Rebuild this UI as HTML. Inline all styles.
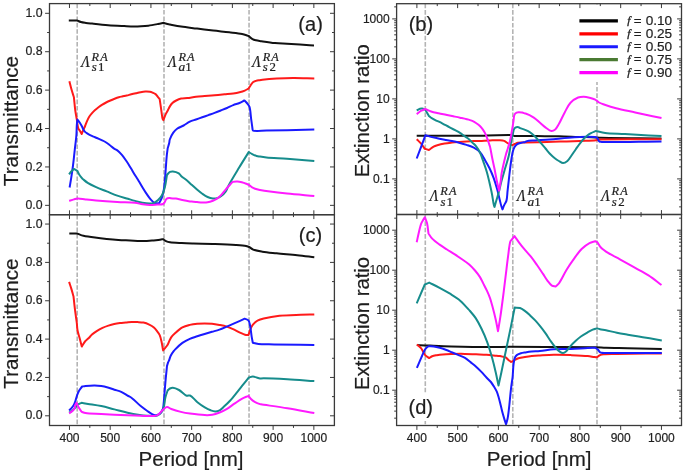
<!DOCTYPE html>
<html><head><meta charset="utf-8"><style>
html,body{margin:0;padding:0;background:#fff;}
svg{display:block;}
text{filter:grayscale(1);}
</style></head><body>
<svg xmlns="http://www.w3.org/2000/svg" width="685" height="473" viewBox="0 0 685 473">
<rect width="685" height="473" fill="#fff"/>
<line x1="77.20" y1="3.60" x2="77.20" y2="425.50" stroke="#b4b4b4" stroke-width="1.6" stroke-dasharray="4.6 1.8"/>
<line x1="164.00" y1="3.60" x2="164.00" y2="425.50" stroke="#b4b4b4" stroke-width="1.6" stroke-dasharray="4.6 1.8"/>
<line x1="249.05" y1="3.60" x2="249.05" y2="425.50" stroke="#b4b4b4" stroke-width="1.6" stroke-dasharray="4.6 1.8"/>
<line x1="425.30" y1="3.70" x2="425.30" y2="425.50" stroke="#b4b4b4" stroke-width="1.6" stroke-dasharray="4.6 1.8"/>
<line x1="512.80" y1="3.70" x2="512.80" y2="425.50" stroke="#b4b4b4" stroke-width="1.6" stroke-dasharray="4.6 1.8"/>
<line x1="597.00" y1="3.70" x2="597.00" y2="425.50" stroke="#b4b4b4" stroke-width="1.6" stroke-dasharray="4.6 1.8"/>
<path d="M68.80,20.40 C71.50,20.40 74.20,20.40 76.90,20.40 C78.23,20.93 79.46,21.59 80.90,22.00 C82.48,22.45 84.22,22.64 86.00,22.90 C87.94,23.18 89.58,23.33 92.10,23.60 C96.19,24.04 102.84,24.78 108.20,25.20 C113.54,25.62 119.53,25.87 124.20,26.10 C127.84,26.28 130.92,26.48 133.90,26.50 C136.45,26.52 138.62,26.43 141.00,26.30 C143.42,26.17 145.70,26.03 148.30,25.70 C151.31,25.31 155.21,24.54 158.00,24.00 C160.13,23.59 161.73,23.20 163.60,22.80 C164.57,23.13 165.48,23.52 166.50,23.80 C167.60,24.10 168.50,24.21 170.00,24.50 C172.66,25.02 177.05,25.96 181.10,26.60 C185.94,27.36 191.76,27.93 197.10,28.60 C202.46,29.27 207.84,29.98 213.20,30.60 C218.54,31.22 224.16,31.70 229.20,32.30 C233.73,32.84 238.57,33.25 242.10,34.00 C244.63,34.54 246.37,35.27 248.50,35.90 C249.83,36.97 251.15,38.36 252.50,39.10 C253.65,39.73 254.69,39.97 256.00,40.30 C257.59,40.70 259.19,40.86 261.40,41.20 C264.90,41.74 270.60,42.67 275.00,43.10 C279.12,43.51 282.92,43.56 287.00,43.80 C291.25,44.05 295.59,44.34 300.00,44.60 C304.58,44.87 309.33,45.13 314.00,45.40" fill="none" stroke="#111111" stroke-width="2" stroke-linejoin="round" stroke-linecap="butt"/>
<path d="M69.40,81.20 C70.13,84.07 70.82,87.05 71.60,89.80 C72.33,92.37 73.13,94.73 73.90,97.20 C74.37,101.67 74.75,106.61 75.30,110.60 C75.75,113.85 76.30,116.46 76.80,119.40 C77.30,122.36 77.53,126.22 78.30,128.30 C78.77,129.55 79.44,130.16 80.00,131.10 C80.57,132.06 81.13,133.03 81.70,134.00 C82.27,132.60 82.82,131.16 83.40,129.80 C83.96,128.50 84.56,127.31 85.10,126.00 C85.66,124.64 86.07,123.24 86.70,121.80 C87.41,120.19 88.28,118.27 89.20,116.80 C90.00,115.51 90.85,114.51 91.80,113.40 C92.80,112.24 93.96,111.03 95.10,110.00 C96.19,109.01 97.35,108.16 98.50,107.30 C99.62,106.46 100.69,105.67 101.90,104.90 C103.21,104.07 104.68,103.24 106.10,102.50 C107.51,101.77 108.97,101.12 110.40,100.50 C111.80,99.89 113.19,99.34 114.60,98.80 C115.99,98.27 117.49,97.70 118.80,97.30 C119.93,96.96 120.83,96.77 122.00,96.50 C123.41,96.17 125.15,95.87 126.70,95.50 C128.25,95.13 129.76,94.68 131.30,94.30 C132.86,93.92 134.44,93.55 136.00,93.20 C137.54,92.85 139.05,92.47 140.60,92.20 C142.15,91.93 143.74,91.67 145.30,91.60 C146.84,91.54 148.57,91.56 149.90,91.80 C150.96,91.99 151.78,92.33 152.70,92.70 C153.65,93.09 154.67,93.44 155.50,94.10 C156.39,94.81 157.07,96.01 157.80,96.90 C158.46,97.70 159.07,98.43 159.70,99.20 C160.00,101.23 160.30,103.23 160.60,105.30 C160.90,107.43 161.16,109.57 161.50,111.80 C161.86,114.19 162.16,117.95 162.70,119.20 C162.91,119.69 163.17,119.80 163.40,120.10 C163.87,118.87 164.34,117.54 164.80,116.40 C165.20,115.40 165.55,114.50 166.00,113.60 C166.45,112.70 166.95,112.01 167.50,111.00 C168.24,109.63 169.10,107.51 170.00,106.10 C170.76,104.91 171.42,103.91 172.40,103.00 C173.46,102.02 174.81,101.22 176.20,100.50 C177.69,99.73 179.34,99.00 181.10,98.60 C183.02,98.16 185.06,98.36 187.30,98.10 C189.96,97.79 193.10,97.15 196.00,96.80 C198.90,96.45 201.71,96.26 204.70,96.00 C207.89,95.72 211.29,95.48 214.60,95.20 C217.93,94.92 221.39,94.59 224.60,94.30 C227.57,94.03 230.56,93.87 233.20,93.50 C235.47,93.18 237.51,92.81 239.50,92.30 C241.36,91.83 243.22,91.27 244.80,90.60 C246.17,90.01 247.27,89.27 248.50,88.60 C249.23,87.47 249.95,86.29 250.70,85.20 C251.42,84.16 251.99,82.92 252.90,82.20 C253.77,81.51 254.91,81.23 256.00,80.90 C257.14,80.55 258.47,80.39 259.60,80.20 C260.59,80.03 261.10,79.95 262.40,79.80 C265.32,79.47 271.77,78.90 276.70,78.60 C281.98,78.28 287.28,78.05 293.10,78.00 C299.71,77.94 307.23,78.27 314.30,78.40" fill="none" stroke="#ff1a1a" stroke-width="2" stroke-linejoin="round" stroke-linecap="butt"/>
<path d="M69.60,187.50 C70.17,184.13 70.75,180.91 71.30,177.40 C71.89,173.60 72.46,169.71 73.00,165.50 C73.61,160.75 74.13,155.38 74.70,150.30 C75.27,145.21 76.06,139.51 76.40,135.00 C76.67,131.43 76.60,128.21 76.80,125.40 C76.96,123.19 77.20,121.47 77.40,119.50 C78.27,120.67 79.25,121.86 80.00,123.00 C80.66,124.02 81.15,124.96 81.70,126.00 C82.28,127.09 82.80,128.37 83.40,129.40 C83.94,130.32 84.48,131.24 85.10,131.90 C85.63,132.46 86.12,132.75 86.80,133.20 C87.70,133.80 88.98,134.53 90.10,135.10 C91.21,135.66 92.36,136.12 93.50,136.60 C94.63,137.08 95.71,137.49 96.90,138.00 C98.23,138.57 99.70,139.24 101.10,139.90 C102.53,140.57 104.01,141.17 105.40,142.00 C106.85,142.86 108.22,143.95 109.60,145.00 C111.02,146.08 112.43,147.46 113.80,148.40 C114.99,149.21 116.15,149.55 117.30,150.40 C118.63,151.38 119.85,152.57 121.20,154.10 C123.01,156.14 125.19,159.28 126.90,161.80 C128.46,164.10 129.70,166.30 131.10,168.60 C132.53,170.96 134.04,173.62 135.40,175.80 C136.56,177.66 137.59,179.10 138.70,180.90 C139.92,182.88 141.15,185.14 142.40,187.20 C143.62,189.21 144.84,191.21 146.10,193.10 C147.31,194.91 148.59,196.79 149.80,198.30 C150.81,199.56 151.91,200.69 152.80,201.60 C153.46,202.27 153.88,203.01 154.60,203.30 C155.34,203.59 156.43,203.25 157.20,203.30 C157.83,203.34 158.33,203.43 158.90,203.50 C159.87,201.60 161.02,199.87 161.80,197.80 C162.65,195.54 163.20,193.09 163.70,190.40 C164.28,187.25 164.56,183.58 164.90,180.00 C165.26,176.19 165.50,172.14 165.80,168.20 C166.10,164.24 166.34,159.88 166.70,156.30 C166.99,153.34 167.37,150.90 167.70,148.20 C168.20,146.47 168.84,144.57 169.20,143.00 C169.49,141.73 169.36,140.82 169.80,139.50 C170.45,137.54 171.91,134.51 173.30,132.60 C174.50,130.94 175.78,129.65 177.40,128.50 C179.17,127.24 181.56,126.61 183.60,125.50 C185.70,124.35 187.68,122.71 189.80,121.70 C191.82,120.74 193.93,120.23 196.00,119.50 C198.07,118.77 200.13,118.03 202.20,117.30 C204.27,116.57 206.33,115.83 208.40,115.10 C210.47,114.37 212.54,113.66 214.60,112.90 C216.67,112.13 218.74,111.32 220.80,110.50 C222.87,109.68 224.95,108.89 227.00,108.00 C229.08,107.10 231.10,105.94 233.20,105.10 C235.27,104.27 237.56,103.81 239.50,103.00 C241.27,102.26 242.77,101.33 244.40,100.50 C245.23,101.33 246.11,102.04 246.90,103.00 C247.79,104.08 248.74,105.00 249.40,106.70 C250.51,109.57 250.64,115.32 251.20,119.30 C251.70,122.88 252.13,126.10 252.60,129.50 C252.80,129.87 252.73,130.32 253.20,130.60 C254.74,131.51 261.59,130.65 266.50,130.60 C272.60,130.54 279.68,130.35 287.00,130.20 C295.45,130.02 305.20,129.80 314.30,129.60" fill="none" stroke="#1a1aff" stroke-width="2" stroke-linejoin="round" stroke-linecap="butt"/>
<path d="M69.10,174.30 C69.83,173.33 70.50,172.30 71.30,171.40 C72.10,170.50 73.03,169.73 73.90,168.90 C75.03,169.53 76.17,170.17 77.30,170.80 C77.93,172.03 78.42,173.26 79.20,174.50 C80.08,175.89 81.33,177.30 82.40,178.70 C84.17,180.10 85.66,181.59 87.70,182.90 C90.11,184.45 93.10,185.84 96.10,187.20 C99.39,188.69 103.17,190.00 106.70,191.40 C110.23,192.80 113.74,194.36 117.30,195.60 C120.81,196.82 124.72,197.85 127.90,198.80 C130.50,199.58 132.60,200.24 135.00,200.90 C137.44,201.57 139.92,202.37 142.40,202.80 C144.85,203.23 147.76,203.51 149.80,203.50 C151.25,203.49 152.26,203.55 153.50,203.10 C155.02,202.55 156.73,201.25 158.10,200.00 C159.50,198.72 160.75,197.32 161.80,195.50 C163.08,193.28 163.98,190.44 164.80,187.40 C165.80,183.70 166.27,179.00 167.00,174.80 C168.00,173.83 168.92,172.45 170.00,171.90 C170.91,171.44 171.77,171.32 172.90,171.40 C174.53,171.52 177.37,172.37 178.80,173.30 C179.87,174.00 180.13,174.98 181.10,175.90 C182.46,177.19 184.65,178.64 186.40,180.10 C188.19,181.60 189.94,183.22 191.70,184.80 C193.47,186.39 195.21,188.08 197.00,189.60 C198.74,191.08 200.49,192.55 202.30,193.80 C204.03,195.00 205.78,196.23 207.60,197.00 C209.32,197.73 211.22,198.24 212.90,198.40 C214.37,198.54 215.74,198.47 217.10,198.10 C218.54,197.71 219.97,196.96 221.30,196.00 C222.82,194.91 224.42,193.37 225.60,191.70 C226.85,189.93 227.16,188.13 228.50,185.60 C230.85,181.18 235.54,173.53 239.00,167.80 C242.27,162.39 245.47,157.33 248.70,152.10 C249.87,152.77 250.95,153.47 252.20,154.10 C253.57,154.78 255.20,155.58 256.60,156.00 C257.78,156.35 258.68,156.40 260.00,156.60 C261.82,156.87 263.72,157.13 266.50,157.40 C271.42,157.87 279.68,158.27 287.00,158.80 C295.45,159.41 305.20,160.20 314.30,160.90" fill="none" stroke="#168c8c" stroke-width="2" stroke-linejoin="round" stroke-linecap="butt"/>
<path d="M69.10,200.80 C70.70,200.33 72.40,199.82 73.90,199.40 C75.21,199.03 76.12,198.50 77.60,198.40 C79.75,198.25 82.75,199.07 85.60,199.40 C88.86,199.77 91.99,200.14 96.10,200.50 C101.93,201.01 110.55,201.61 117.30,202.00 C123.46,202.36 130.38,202.26 135.00,202.80 C138.01,203.15 139.93,203.83 142.40,204.20 C144.86,204.57 147.33,204.95 149.80,205.00 C152.26,205.05 154.87,204.68 157.20,204.50 C159.28,204.34 161.85,204.61 163.10,204.00 C163.86,203.63 164.14,203.06 164.60,202.40 C165.17,201.59 165.50,200.11 166.10,199.40 C166.55,198.87 167.01,198.52 167.60,198.30 C168.28,198.05 169.47,198.04 170.00,198.10 C170.27,198.13 170.29,198.24 170.60,198.30 C171.48,198.47 174.15,198.37 175.90,198.60 C177.65,198.83 179.36,199.35 181.10,199.70 C182.86,200.05 184.63,200.38 186.40,200.70 C188.17,201.02 189.93,201.37 191.70,201.60 C193.46,201.83 195.23,201.95 197.00,202.10 C198.77,202.25 200.53,202.47 202.30,202.50 C204.07,202.53 205.85,202.59 207.60,202.30 C209.39,202.00 211.26,201.35 212.90,200.70 C214.41,200.10 215.76,199.51 217.10,198.60 C218.57,197.61 219.95,196.31 221.30,194.90 C222.79,193.35 224.13,191.30 225.60,189.60 C227.03,187.94 228.67,186.19 230.00,184.80 C231.05,183.70 231.71,182.47 232.90,181.90 C234.15,181.30 235.91,181.35 237.40,181.40 C238.88,181.45 240.35,181.82 241.80,182.20 C243.28,182.58 244.89,183.17 246.20,183.70 C247.31,184.15 248.23,184.51 249.20,185.10 C250.24,185.73 251.18,186.77 252.20,187.40 C253.15,187.98 253.98,188.40 255.10,188.80 C256.50,189.30 258.07,189.61 260.00,190.00 C262.74,190.55 266.22,191.08 270.00,191.60 C274.91,192.28 280.66,192.95 287.00,193.60 C295.02,194.42 305.20,195.20 314.30,196.00" fill="none" stroke="#ff1aff" stroke-width="2" stroke-linejoin="round" stroke-linecap="butt"/>
<path d="M69.30,233.40 C71.83,233.40 74.37,233.40 76.90,233.40 C78.07,233.90 79.26,234.51 80.40,234.90 C81.43,235.25 82.06,235.41 83.40,235.70 C86.00,236.26 91.12,237.05 95.00,237.60 C98.89,238.15 102.80,238.60 106.70,239.00 C110.60,239.40 114.50,239.75 118.40,240.00 C122.30,240.25 126.36,240.33 130.10,240.50 C133.54,240.66 137.02,240.95 140.00,241.00 C142.45,241.04 144.60,240.98 146.70,240.90 C148.57,240.83 150.36,240.73 152.00,240.60 C153.43,240.49 154.67,240.35 156.00,240.20 C157.33,240.05 158.76,239.88 160.00,239.70 C161.07,239.54 162.00,239.37 163.00,239.20 C164.17,239.93 165.29,240.88 166.50,241.40 C167.63,241.89 168.48,242.05 170.00,242.30 C172.74,242.74 177.80,242.90 181.70,243.10 C185.60,243.30 188.91,243.38 193.40,243.50 C199.50,243.66 207.86,243.66 215.00,243.90 C222.03,244.13 230.17,244.45 235.90,244.90 C239.91,245.21 243.70,245.49 246.10,246.00 C247.45,246.29 248.14,246.49 249.20,247.00 C250.49,247.61 251.51,248.89 253.20,249.60 C255.57,250.60 258.98,251.12 262.40,251.70 C266.63,252.42 271.50,252.77 276.70,253.30 C282.92,253.94 290.68,254.52 297.20,255.20 C303.16,255.82 308.60,256.53 314.30,257.20" fill="none" stroke="#111111" stroke-width="2" stroke-linejoin="round" stroke-linecap="butt"/>
<path d="M69.10,281.90 C69.83,284.13 70.59,286.28 71.30,288.60 C72.06,291.07 72.77,293.73 73.50,296.30 C73.90,299.97 74.28,303.80 74.70,307.30 C75.08,310.51 75.52,313.71 75.90,316.50 C76.22,318.83 76.54,320.69 76.80,322.90 C77.08,325.27 77.04,327.77 77.50,330.30 C78.00,333.06 79.07,336.03 79.80,338.80 C80.50,341.45 81.13,344.00 81.80,346.60 C82.87,344.90 83.80,342.94 85.00,341.50 C86.06,340.23 87.35,339.43 88.50,338.30 C89.69,337.13 90.69,335.76 92.00,334.60 C93.40,333.35 95.01,332.19 96.70,331.10 C98.50,329.94 100.53,328.82 102.50,327.90 C104.43,327.00 106.42,326.26 108.40,325.60 C110.33,324.96 112.25,324.42 114.20,324.00 C116.12,323.59 118.05,323.33 120.00,323.10 C121.95,322.87 123.94,322.78 125.90,322.60 C127.84,322.42 129.76,322.08 131.70,322.00 C133.66,321.92 135.64,322.00 137.60,322.10 C139.54,322.20 141.49,322.20 143.40,322.60 C145.36,323.02 147.41,323.75 149.20,324.60 C150.90,325.40 152.53,326.32 153.90,327.50 C155.26,328.66 156.39,330.26 157.40,331.60 C158.29,332.78 159.06,333.70 159.70,335.10 C160.50,336.86 160.97,339.18 161.50,341.50 C162.12,344.21 162.57,347.43 163.10,350.40 C163.70,349.70 164.25,349.08 164.90,348.30 C165.69,347.35 166.75,346.33 167.50,345.10 C168.34,343.73 168.86,341.86 169.60,340.40 C170.27,339.08 170.83,337.86 171.70,336.70 C172.61,335.48 173.63,334.54 175.00,333.30 C176.93,331.55 179.80,328.82 182.40,327.40 C184.76,326.11 187.31,325.52 189.80,324.90 C192.24,324.29 194.73,323.95 197.20,323.70 C199.66,323.45 202.13,323.40 204.60,323.40 C207.07,323.40 209.54,323.45 212.00,323.70 C214.47,323.95 216.94,324.42 219.40,324.90 C221.87,325.38 224.36,325.83 226.80,326.60 C229.30,327.39 231.91,328.54 234.20,329.60 C236.27,330.55 238.12,331.70 240.00,332.60 C241.72,333.42 243.46,334.41 245.00,334.80 C246.21,335.11 247.27,335.00 248.40,335.10 C248.97,333.47 249.52,331.72 250.10,330.20 C250.62,328.84 250.95,327.62 251.70,326.40 C252.53,325.04 253.86,323.56 255.00,322.50 C255.97,321.59 256.78,320.92 258.00,320.30 C259.55,319.52 261.30,319.08 263.70,318.50 C267.63,317.55 273.83,316.42 279.50,315.80 C286.03,315.09 294.41,315.02 300.70,314.80 C305.73,314.63 309.77,314.60 314.30,314.50" fill="none" stroke="#ff1a1a" stroke-width="2" stroke-linejoin="round" stroke-linecap="butt"/>
<path d="M69.10,410.50 C69.83,409.77 70.57,409.14 71.30,408.30 C72.14,407.34 73.16,406.09 73.80,405.00 C74.35,404.06 74.58,403.34 75.00,402.20 C75.63,400.48 76.29,397.59 77.00,395.60 C77.60,393.91 78.09,392.47 78.90,391.00 C79.74,389.47 80.97,388.07 82.00,386.60 C83.17,386.40 84.05,386.17 85.50,386.00 C87.83,385.72 91.89,385.36 94.70,385.40 C97.08,385.43 99.12,385.65 101.30,386.00 C103.49,386.35 105.64,386.89 107.80,387.50 C110.01,388.12 112.18,388.99 114.40,389.70 C116.65,390.42 119.02,390.83 121.20,391.80 C123.43,392.79 125.67,394.45 127.60,395.60 C129.20,396.55 130.36,396.99 132.00,398.20 C134.49,400.04 137.95,403.84 140.70,406.10 C143.00,407.99 145.21,409.54 147.30,411.00 C149.12,412.27 151.03,413.68 152.50,414.40 C153.48,414.88 154.35,415.25 155.10,415.30 C155.66,415.34 156.10,415.10 156.60,415.00 C157.60,414.67 158.69,414.71 159.60,414.00 C160.87,413.01 162.22,410.67 162.90,408.80 C163.57,406.96 163.44,405.26 163.70,402.90 C164.09,399.36 164.44,393.90 164.80,389.60 C165.14,385.55 165.43,381.74 165.80,377.80 C166.17,373.84 166.60,369.87 167.00,365.90 C167.40,364.67 167.79,363.26 168.20,362.20 C168.53,361.36 168.85,360.86 169.20,360.00 C169.68,358.81 169.99,357.13 170.70,355.70 C171.50,354.09 173.09,351.98 173.90,350.90 C174.34,350.31 174.44,350.18 175.00,349.60 C176.35,348.20 179.82,344.74 182.40,342.90 C184.77,341.20 187.28,339.91 189.80,338.80 C192.22,337.73 194.73,337.10 197.20,336.30 C199.66,335.50 202.13,334.75 204.60,334.00 C207.06,333.25 209.53,332.53 212.00,331.80 C214.47,331.07 216.95,330.46 219.40,329.60 C221.89,328.73 224.34,327.63 226.80,326.60 C229.27,325.56 231.89,324.42 234.20,323.40 C236.25,322.50 238.18,321.62 240.00,320.80 C241.62,320.07 243.07,319.40 244.60,318.70 C245.87,319.23 247.49,319.30 248.40,320.30 C249.47,321.48 249.61,323.63 250.10,325.80 C250.78,328.82 251.19,333.69 251.70,336.80 C252.08,339.10 252.43,340.80 252.80,342.80 C253.53,342.97 254.19,343.11 255.00,343.30 C256.01,343.53 256.84,343.90 258.40,344.10 C261.72,344.52 267.73,344.30 274.20,344.40 C284.51,344.56 300.93,344.73 314.30,344.90" fill="none" stroke="#1a1aff" stroke-width="2" stroke-linejoin="round" stroke-linecap="butt"/>
<path d="M69.10,412.60 C70.10,412.03 71.18,411.60 72.10,410.90 C73.05,410.18 74.25,408.67 74.70,408.30 C74.84,408.18 74.87,408.22 75.00,408.10 C75.46,407.67 76.52,405.68 77.60,404.80 C78.71,403.90 80.27,403.47 81.60,402.80 C83.77,403.17 85.55,403.47 88.10,403.90 C91.73,404.51 96.93,405.19 101.30,406.10 C105.69,407.02 110.02,408.30 114.40,409.40 C118.79,410.50 123.44,411.78 127.60,412.70 C131.29,413.51 134.71,414.19 138.10,414.70 C141.26,415.17 144.23,415.53 147.30,415.70 C150.36,415.87 154.30,416.26 156.50,415.70 C157.87,415.35 158.62,414.88 159.60,414.00 C160.92,412.82 162.36,411.01 163.30,408.80 C164.59,405.77 164.64,400.36 165.50,397.00 C166.16,394.43 166.97,392.53 167.70,390.30 C168.47,389.70 169.14,388.92 170.00,388.50 C170.87,388.08 171.77,387.74 172.90,387.80 C174.57,387.89 176.94,388.89 179.00,390.00 C181.49,391.35 184.47,395.06 186.60,395.70 C187.88,396.08 188.75,395.06 190.00,395.50 C192.13,396.25 194.87,400.18 197.40,402.20 C199.81,404.12 202.42,405.99 204.80,407.40 C206.83,408.60 208.83,409.62 210.70,410.30 C212.27,410.87 213.71,411.40 215.20,411.40 C216.68,411.40 218.21,411.01 219.60,410.30 C221.16,409.50 222.45,408.01 224.00,406.60 C225.88,404.89 227.95,402.93 230.00,400.70 C232.40,398.09 235.09,394.64 237.40,391.80 C239.49,389.23 241.35,386.82 243.30,384.40 C245.19,382.06 247.03,379.80 248.90,377.50 C250.23,377.20 251.38,376.57 252.90,376.60 C254.93,376.64 258.70,378.39 260.00,378.50 C260.48,378.54 260.44,378.42 261.00,378.40 C263.87,378.30 278.56,378.75 287.40,379.20 C296.33,379.65 305.33,380.47 314.30,381.10" fill="none" stroke="#168c8c" stroke-width="2" stroke-linejoin="round" stroke-linecap="butt"/>
<path d="M69.10,413.40 C70.10,412.67 71.18,412.04 72.10,411.20 C73.05,410.34 74.24,409.32 74.70,408.30 C75.07,407.47 74.72,406.56 75.00,405.70 C75.31,404.73 76.07,403.77 76.60,402.80 C77.17,404.13 77.56,405.43 78.30,406.80 C79.17,408.41 80.50,410.13 81.60,411.80 C82.90,412.23 83.73,412.76 85.50,413.10 C88.97,413.76 96.28,413.72 101.30,414.00 C105.87,414.25 110.02,414.48 114.40,414.70 C118.79,414.92 123.21,415.13 127.60,415.30 C131.97,415.47 136.33,415.58 140.70,415.70 C145.07,415.82 150.66,416.40 153.80,416.00 C155.61,415.77 156.80,415.50 158.00,414.80 C159.16,414.12 159.95,412.87 160.90,411.90 C161.85,410.94 162.66,409.80 163.70,409.00 C164.73,408.21 165.89,407.15 167.10,407.10 C168.41,407.04 169.59,408.36 171.30,409.00 C173.82,409.95 177.72,411.13 180.90,411.90 C183.95,412.64 186.59,413.11 190.00,413.60 C194.33,414.22 200.71,414.98 204.80,415.10 C207.69,415.19 209.76,415.22 212.20,414.80 C214.70,414.37 217.17,413.48 219.60,412.50 C222.11,411.49 224.58,410.23 227.00,408.80 C229.52,407.31 231.93,405.37 234.40,403.70 C236.86,402.04 239.34,400.15 241.80,398.80 C244.04,397.57 246.27,396.80 248.50,395.80 C249.23,396.80 249.76,397.83 250.70,398.80 C251.85,399.98 253.53,401.31 255.10,402.20 C256.63,403.06 258.98,403.80 260.00,404.10 C260.45,404.23 260.44,404.20 261.00,404.30 C263.87,404.80 278.57,406.86 287.40,408.30 C296.33,409.76 305.33,411.43 314.30,413.00" fill="none" stroke="#ff1aff" stroke-width="2" stroke-linejoin="round" stroke-linecap="butt"/>
<path d="M416.70,135.80 C437.80,135.80 469.64,135.95 480.00,135.80 C483.37,135.75 483.82,135.68 486.70,135.60 C491.95,135.45 505.24,135.05 508.90,135.00 C510.10,134.98 510.46,134.88 511.30,135.00 C512.25,135.14 512.92,135.69 514.30,135.90 C517.14,136.33 522.87,135.96 527.60,136.00 C533.01,136.05 539.51,136.15 545.00,136.20 C549.92,136.25 553.97,136.20 559.00,136.30 C564.87,136.41 571.91,136.71 578.10,136.90 C583.96,137.08 591.03,137.19 595.20,137.40 C597.61,137.52 597.99,137.68 600.90,137.80 C610.38,138.18 641.30,138.20 661.50,138.40" fill="none" stroke="#111111" stroke-width="2" stroke-linejoin="round" stroke-linecap="butt"/>
<path d="M416.70,139.20 C418.17,140.70 419.75,142.10 421.10,143.70 C422.45,145.30 423.57,147.10 424.80,148.80 C426.17,149.20 427.53,149.60 428.90,150.00 C429.27,149.73 429.53,149.54 430.00,149.20 C430.85,148.58 432.35,147.28 433.60,146.60 C434.78,145.96 435.84,145.64 437.30,145.20 C439.31,144.59 442.16,143.93 444.60,143.50 C447.02,143.07 449.46,142.85 451.90,142.60 C454.33,142.35 456.77,142.18 459.20,142.00 C461.63,141.82 464.07,141.65 466.50,141.50 C468.93,141.35 471.47,141.20 473.80,141.10 C475.95,141.01 477.69,141.00 480.00,140.90 C482.94,140.78 486.67,140.52 490.00,140.40 C493.33,140.28 497.39,140.01 500.00,140.20 C501.71,140.32 502.94,140.41 504.20,140.90 C505.39,141.37 506.38,142.35 507.40,143.00 C508.31,143.58 509.15,144.25 510.00,144.60 C510.71,144.90 511.40,144.93 512.10,145.10 C513.00,144.73 513.87,144.37 514.80,144.00 C515.80,143.60 516.63,143.06 517.90,142.80 C519.76,142.43 522.20,142.68 525.00,142.60 C529.08,142.49 534.64,142.35 540.00,142.20 C546.19,142.02 553.33,141.80 560.00,141.60 C566.67,141.40 573.73,141.23 580.00,141.00 C585.58,140.79 592.45,140.80 595.80,140.30 C597.40,140.06 598.13,139.70 599.30,139.40 C620.03,139.33 640.77,139.27 661.50,139.20" fill="none" stroke="#ff1a1a" stroke-width="2" stroke-linejoin="round" stroke-linecap="butt"/>
<path d="M416.70,158.50 C419.63,150.73 422.57,142.97 425.50,135.20 C427.00,135.67 428.31,136.15 430.00,136.60 C432.13,137.16 434.86,137.68 437.30,138.20 C439.73,138.72 442.17,139.22 444.60,139.70 C447.03,140.18 449.47,140.58 451.90,141.10 C454.34,141.62 456.77,142.17 459.20,142.80 C461.64,143.44 464.08,144.09 466.50,144.90 C468.95,145.72 471.54,146.47 473.80,147.70 C476.04,148.91 478.18,150.26 480.00,152.20 C482.05,154.38 483.60,157.69 485.20,160.40 C486.72,162.96 488.06,165.25 489.40,168.00 C490.91,171.09 492.43,174.63 493.70,178.10 C495.00,181.66 496.10,185.49 497.10,189.10 C498.06,192.55 498.84,196.26 499.60,199.30 C500.22,201.77 500.74,204.15 501.30,206.00 C501.70,207.33 502.10,208.27 502.50,209.40 C503.07,207.97 503.56,206.51 504.20,205.10 C504.85,203.67 505.85,202.67 506.40,200.90 C507.20,198.30 507.17,194.44 507.60,190.70 C508.12,186.14 508.72,180.41 509.30,175.50 C509.85,170.86 510.39,166.17 511.00,162.00 C511.53,158.38 511.99,154.60 512.70,151.90 C513.20,150.01 513.63,148.52 514.40,147.20 C515.08,146.04 515.79,145.04 516.90,144.30 C518.21,143.42 520.51,142.97 522.00,142.60 C523.12,142.32 524.13,142.39 525.00,142.10 C525.73,141.85 526.01,141.36 526.90,141.10 C528.63,140.59 531.91,140.62 535.00,140.40 C539.13,140.11 544.35,140.00 549.50,139.60 C555.41,139.14 562.15,138.18 568.50,137.70 C574.85,137.22 582.78,136.72 587.60,136.70 C590.54,136.69 593.00,136.68 594.70,137.00 C595.70,137.19 596.31,137.26 597.00,137.80 C597.91,138.52 598.37,140.76 599.30,141.40 C600.01,141.89 600.36,141.77 601.70,141.90 C608.34,142.56 641.57,141.57 661.50,141.40" fill="none" stroke="#1a1aff" stroke-width="2" stroke-linejoin="round" stroke-linecap="butt"/>
<path d="M416.70,110.40 C417.80,109.83 418.98,109.00 420.00,108.70 C420.78,108.47 421.44,108.43 422.20,108.50 C423.04,108.57 423.93,108.97 424.80,109.20 C425.43,110.20 426.05,111.14 426.70,112.20 C427.41,113.36 428.17,114.67 428.90,115.90 C429.63,116.50 430.24,117.11 431.10,117.70 C432.15,118.42 433.34,119.04 434.80,119.80 C436.83,120.85 439.75,122.05 442.20,123.30 C444.69,124.58 447.12,126.09 449.60,127.40 C452.05,128.69 455.10,130.05 457.00,131.10 C458.24,131.78 458.89,132.18 460.00,132.90 C461.47,133.85 463.45,135.34 465.00,136.40 C466.32,137.31 467.52,137.92 468.70,138.90 C469.97,139.96 471.08,141.38 472.30,142.60 C473.52,143.82 474.83,144.74 476.00,146.20 C477.42,147.96 478.82,150.19 480.00,152.60 C481.37,155.39 482.36,158.88 483.50,162.10 C484.67,165.41 485.91,168.81 486.90,172.20 C487.88,175.55 488.58,178.79 489.40,182.30 C490.28,186.10 491.26,190.39 492.00,194.20 C492.68,197.70 493.17,202.05 493.70,204.30 C493.98,205.46 494.23,206.03 494.50,206.90 C495.07,204.90 495.57,203.07 496.20,200.90 C496.95,198.33 497.87,195.57 498.70,192.50 C499.70,188.82 500.61,184.38 501.70,180.30 C502.81,176.15 504.10,171.98 505.30,167.80 C506.50,163.61 507.89,159.69 508.90,155.20 C510.03,150.17 510.84,142.72 511.60,139.00 C512.01,137.03 512.35,136.02 512.70,134.50 C513.05,132.95 513.37,131.37 513.70,129.80 C514.23,129.10 514.56,128.14 515.30,127.70 C516.12,127.21 517.66,127.04 518.50,127.20 C519.12,127.32 519.33,127.79 520.00,128.10 C521.16,128.64 523.35,129.12 525.00,129.80 C526.71,130.51 528.48,131.23 530.10,132.30 C531.83,133.44 533.39,134.92 535.00,136.50 C536.79,138.25 538.55,140.41 540.30,142.40 C542.05,144.41 543.79,146.49 545.50,148.50 C547.16,150.46 548.75,152.61 550.40,154.30 C551.85,155.79 553.32,157.05 554.80,158.20 C556.16,159.26 557.50,160.17 558.90,161.00 C560.27,161.80 561.69,163.09 563.10,163.10 C564.52,163.11 566.10,162.08 567.40,161.00 C568.96,159.71 570.14,157.41 571.50,155.50 C572.94,153.49 574.36,151.26 575.80,149.20 C577.20,147.19 578.55,145.17 580.00,143.30 C581.39,141.51 582.92,139.64 584.30,138.20 C585.43,137.02 586.45,136.07 587.60,135.20 C588.69,134.38 589.73,133.76 591.00,133.10 C592.50,132.32 594.40,131.63 596.10,130.90 C597.17,131.20 598.06,131.51 599.30,131.80 C600.96,132.19 602.64,132.59 605.20,132.90 C609.85,133.47 617.40,133.66 625.00,134.10 C635.32,134.70 649.33,135.43 661.50,136.10" fill="none" stroke="#168c8c" stroke-width="2" stroke-linejoin="round" stroke-linecap="butt"/>
<path d="M416.70,114.10 C417.80,113.23 418.89,112.20 420.00,111.50 C420.99,110.87 422.08,110.46 423.00,110.00 C423.79,109.60 424.47,109.27 425.20,108.90 C425.93,109.27 426.56,109.62 427.40,110.00 C428.47,110.48 429.63,111.03 431.10,111.50 C433.12,112.15 436.03,112.75 438.50,113.30 C440.96,113.85 443.43,114.30 445.90,114.80 C448.37,115.30 450.90,115.81 453.30,116.30 C455.59,116.77 457.55,117.15 460.00,117.70 C463.01,118.37 467.40,119.27 470.00,120.10 C471.72,120.65 472.83,121.06 474.20,121.80 C475.67,122.60 477.21,123.70 478.50,124.80 C479.73,125.84 480.81,126.99 481.80,128.20 C482.77,129.39 483.66,130.74 484.40,132.00 C485.07,133.14 485.61,134.26 486.10,135.40 C486.57,136.49 486.90,137.56 487.30,138.70 C487.73,139.92 488.17,141.23 488.60,142.50 C489.03,143.77 489.55,145.03 489.90,146.30 C490.24,147.53 490.41,148.57 490.70,150.00 C491.09,151.96 491.48,154.37 492.00,157.00 C492.68,160.43 493.68,164.73 494.50,168.80 C495.38,173.14 496.25,178.33 497.10,182.30 C497.78,185.47 498.43,187.97 499.10,190.80 C499.67,187.30 500.36,183.44 500.80,180.30 C501.15,177.76 501.16,176.06 501.60,173.40 C502.22,169.67 503.70,163.51 504.50,160.10 C505.00,157.96 505.28,156.73 505.80,154.90 C506.39,152.80 507.21,150.49 507.90,148.20 C508.61,145.82 509.40,143.44 510.00,140.90 C510.64,138.19 511.12,135.02 511.60,132.40 C512.01,130.14 512.37,128.11 512.70,126.10 C513.00,124.26 513.25,122.57 513.50,120.80 C513.75,119.03 513.78,116.84 514.20,115.50 C514.48,114.61 514.70,113.93 515.30,113.40 C516.02,112.76 517.38,112.34 518.50,112.20 C519.67,112.05 521.06,112.38 522.20,112.60 C523.21,112.80 524.41,113.27 525.00,113.40 C525.27,113.46 525.30,113.40 525.60,113.50 C526.78,113.88 531.34,115.99 533.80,117.60 C536.11,119.12 537.98,121.10 540.00,122.80 C541.94,124.43 543.74,126.21 545.70,127.60 C547.55,128.92 549.66,130.86 551.40,131.00 C552.77,131.11 554.06,130.42 555.20,129.50 C556.68,128.31 557.68,126.07 559.00,123.80 C560.80,120.70 562.72,116.00 564.70,112.40 C566.56,109.02 568.12,105.34 570.50,102.80 C572.66,100.49 575.64,98.47 578.10,97.50 C580.04,96.74 581.90,96.67 583.80,96.70 C585.70,96.73 587.62,97.22 589.50,97.70 C591.42,98.19 593.55,98.73 595.20,99.60 C596.67,100.38 597.54,101.68 599.00,102.50 C600.65,103.42 602.46,103.92 604.70,104.70 C607.83,105.78 611.79,107.07 616.10,108.20 C621.62,109.65 628.32,110.90 635.20,112.40 C643.27,114.16 652.73,116.20 661.50,118.10" fill="none" stroke="#ff1aff" stroke-width="2" stroke-linejoin="round" stroke-linecap="butt"/>
<path d="M416.90,345.00 C419.73,345.13 423.00,345.29 425.40,345.40 C427.17,345.48 427.91,345.51 430.00,345.60 C434.48,345.78 443.00,346.17 451.10,346.40 C462.10,346.71 478.97,347.08 490.00,347.10 C498.16,347.12 503.39,346.83 511.30,346.80 C521.25,346.76 532.66,346.93 545.00,347.00 C560.03,347.09 584.36,347.03 595.00,347.30 C599.99,347.43 601.71,347.66 606.00,347.80 C612.03,347.99 619.73,348.04 627.80,348.20 C637.88,348.40 650.47,348.67 661.80,348.90" fill="none" stroke="#111111" stroke-width="2" stroke-linejoin="round" stroke-linecap="butt"/>
<path d="M416.90,344.40 C418.37,345.77 420.00,346.87 421.30,348.50 C422.74,350.31 423.55,353.24 425.00,354.90 C426.22,356.30 427.73,357.03 429.10,358.10 C430.10,357.50 430.95,356.77 432.10,356.30 C433.45,355.75 435.13,355.51 436.80,355.20 C438.67,354.86 440.60,354.60 442.80,354.40 C445.45,354.16 448.36,354.09 451.60,354.00 C455.60,353.89 460.74,353.84 465.00,353.90 C468.87,353.96 472.44,354.17 476.10,354.30 C479.67,354.43 483.23,354.44 486.70,354.70 C490.06,354.95 494.16,355.56 496.60,355.80 C498.03,355.94 498.89,355.93 500.00,356.10 C501.09,356.27 502.20,356.57 503.20,356.80 C504.09,357.00 504.92,356.98 505.70,357.40 C506.60,357.88 507.32,358.96 508.20,359.70 C509.11,360.46 510.13,361.17 511.10,361.90 C511.83,361.57 512.61,361.27 513.30,360.90 C513.97,360.54 514.51,360.08 515.20,359.70 C515.97,359.28 516.72,358.85 517.70,358.50 C518.96,358.05 520.57,357.73 522.20,357.40 C524.12,357.01 526.39,356.68 528.50,356.40 C530.62,356.12 532.89,355.87 534.90,355.70 C536.69,355.55 537.88,355.51 540.00,355.40 C543.48,355.22 548.97,354.86 553.80,354.80 C559.15,354.73 565.06,354.90 570.70,355.10 C576.36,355.30 583.34,355.53 587.70,356.00 C590.45,356.30 592.68,356.89 594.40,357.10 C595.46,357.23 596.13,357.23 597.00,357.30 C598.00,356.57 598.88,355.62 600.00,355.10 C601.14,354.57 602.14,354.41 603.80,354.20 C606.84,353.81 611.23,354.00 616.90,353.90 C627.40,353.72 646.83,353.57 661.80,353.40" fill="none" stroke="#ff1a1a" stroke-width="2" stroke-linejoin="round" stroke-linecap="butt"/>
<path d="M416.90,367.90 C418.37,364.50 419.88,360.91 421.30,357.70 C422.57,354.81 423.74,351.40 425.00,349.50 C425.79,348.31 426.61,347.45 427.40,346.90 C427.97,346.50 428.53,346.43 429.10,346.20 C430.70,346.27 432.23,346.17 433.90,346.40 C435.78,346.66 437.85,347.24 439.80,347.80 C441.78,348.37 443.74,349.07 445.70,349.80 C447.68,350.54 449.64,351.38 451.60,352.20 C453.57,353.02 455.42,353.81 457.50,354.70 C459.85,355.70 462.74,356.57 465.00,357.90 C467.15,359.16 468.92,360.91 470.80,362.40 C472.61,363.84 474.37,365.15 476.10,366.70 C477.91,368.31 479.66,370.09 481.40,371.90 C483.19,373.76 485.02,375.92 486.70,377.70 C488.17,379.25 489.69,380.51 490.90,382.00 C492.03,383.38 492.86,384.76 493.80,386.30 C494.83,387.98 495.98,389.83 496.80,391.70 C497.61,393.56 498.09,395.41 498.70,397.50 C499.40,399.90 500.05,402.70 500.70,405.30 C501.35,407.90 501.93,410.60 502.60,413.10 C503.23,415.45 503.98,417.88 504.60,419.90 C505.10,421.53 505.53,422.83 506.00,424.30 C506.50,422.53 507.06,421.05 507.50,419.00 C508.08,416.25 508.50,412.46 508.90,409.20 C509.30,405.96 509.57,402.74 509.90,399.50 C510.23,396.24 510.54,392.77 510.90,389.70 C511.22,386.98 511.59,384.26 511.90,382.00 C512.15,380.21 512.38,379.20 512.60,377.20 C512.97,373.88 513.05,367.56 513.60,363.90 C513.99,361.27 514.30,358.78 515.10,357.20 C515.63,356.14 516.24,355.52 517.10,354.90 C518.10,354.17 519.56,353.71 520.90,353.30 C522.32,352.87 523.77,352.68 525.40,352.40 C527.32,352.07 529.45,351.71 531.70,351.50 C534.27,351.25 536.89,351.39 540.00,351.10 C544.03,350.73 548.96,349.58 553.80,349.20 C559.14,348.79 565.06,349.10 570.70,348.90 C576.36,348.70 583.16,348.18 587.70,348.00 C590.74,347.88 592.77,347.87 595.30,347.80 C596.13,348.37 597.04,348.80 597.80,349.50 C598.62,350.25 599.25,351.66 600.00,352.20 C600.53,352.58 600.95,352.66 601.60,352.80 C602.51,352.99 603.52,352.96 605.00,353.00 C607.76,353.08 611.66,353.00 616.90,353.00 C627.07,353.00 646.83,353.00 661.80,353.00" fill="none" stroke="#1a1aff" stroke-width="2" stroke-linejoin="round" stroke-linecap="butt"/>
<path d="M416.70,303.30 C419.40,297.03 422.10,290.77 424.80,284.50 C426.27,283.87 427.73,283.23 429.20,282.60 C432.67,284.33 436.16,285.96 439.60,287.80 C443.09,289.66 446.71,291.67 450.00,293.70 C453.09,295.61 455.97,297.27 458.80,299.60 C461.89,302.14 465.71,306.43 467.70,308.50 C468.73,309.58 469.08,309.93 470.00,311.00 C471.50,312.74 473.91,315.42 475.70,318.10 C477.74,321.16 479.59,324.77 481.40,328.50 C483.40,332.62 485.39,337.17 487.10,341.80 C488.91,346.68 490.46,351.99 491.90,357.10 C493.32,362.15 494.57,367.39 495.70,372.30 C496.75,376.87 497.57,381.17 498.50,385.60 C499.47,381.17 500.33,377.33 501.40,372.30 C502.80,365.72 504.52,357.11 506.10,349.50 C507.69,341.87 509.41,333.88 510.90,326.60 C512.26,319.97 513.43,313.93 514.70,307.60 C516.47,307.73 518.31,307.46 520.00,308.00 C521.79,308.57 523.46,309.91 525.10,311.10 C526.83,312.36 528.45,313.88 530.10,315.40 C531.82,316.98 533.54,318.62 535.20,320.40 C536.94,322.27 538.63,324.32 540.30,326.40 C542.03,328.55 543.75,330.77 545.40,333.10 C547.12,335.53 548.69,338.26 550.40,340.70 C552.06,343.06 553.81,345.56 555.50,347.50 C556.91,349.13 558.28,350.75 559.70,351.70 C560.82,352.45 561.99,353.20 563.10,353.10 C564.26,352.99 565.38,351.90 566.50,350.90 C567.93,349.63 569.19,347.46 570.70,345.80 C572.28,344.06 574.06,342.28 575.80,340.70 C577.46,339.19 579.03,337.84 580.90,336.50 C582.96,335.03 585.59,333.50 587.70,332.30 C589.47,331.29 591.07,330.37 592.70,329.70 C594.16,329.11 595.57,328.83 597.00,328.40 C598.00,328.67 598.82,328.94 600.00,329.20 C601.65,329.57 603.71,329.84 606.00,330.30 C609.10,330.93 613.26,331.97 616.90,332.70 C620.53,333.43 624.16,334.05 627.80,334.70 C631.46,335.35 635.14,336.00 638.80,336.60 C642.44,337.20 645.97,337.69 649.70,338.30 C653.63,338.95 657.77,339.70 661.80,340.40" fill="none" stroke="#168c8c" stroke-width="2" stroke-linejoin="round" stroke-linecap="butt"/>
<path d="M416.70,242.30 C417.30,239.53 417.82,236.90 418.50,234.00 C419.26,230.77 420.13,226.27 421.10,223.80 C421.70,222.28 422.37,221.43 423.00,220.30 C423.60,219.23 424.20,218.23 424.80,217.20 C425.53,219.17 426.42,220.82 427.00,223.10 C427.75,226.04 428.00,230.03 428.50,233.50 C429.73,235.20 430.62,236.93 432.20,238.60 C434.14,240.65 437.09,242.76 439.60,244.60 C442.02,246.38 444.53,247.90 447.00,249.50 C449.46,251.09 451.93,252.59 454.40,254.20 C456.93,255.85 459.52,257.57 462.00,259.30 C464.45,261.00 467.01,262.60 469.20,264.50 C471.33,266.34 473.20,268.40 475.00,270.50 C476.80,272.60 478.61,274.89 480.00,277.10 C481.26,279.09 482.02,280.98 483.10,283.10 C484.31,285.48 485.73,288.14 486.90,290.70 C488.06,293.24 489.20,295.85 490.10,298.40 C490.95,300.82 491.44,302.80 492.20,305.60 C493.25,309.47 494.70,315.05 495.70,319.50 C496.61,323.56 497.23,327.30 498.00,331.20 C498.77,326.53 499.52,322.41 500.30,317.20 C501.28,310.66 502.36,302.31 503.30,295.00 C504.22,287.88 505.07,280.63 505.90,273.90 C506.66,267.71 507.31,261.75 508.10,256.10 C508.82,250.93 509.38,243.63 510.40,241.30 C510.77,240.47 511.12,240.41 511.60,239.80 C512.36,238.84 513.53,237.33 514.50,236.10 C516.10,238.33 517.59,240.53 519.30,242.80 C521.14,245.23 523.20,247.82 525.20,250.20 C527.14,252.51 529.19,254.51 531.10,256.90 C533.13,259.43 535.05,262.22 537.00,265.00 C539.02,267.88 541.16,271.14 543.00,273.90 C544.59,276.29 545.85,278.57 547.40,280.60 C548.83,282.47 550.31,284.77 551.90,285.70 C553.08,286.39 554.37,286.23 555.60,286.50 C556.83,285.27 557.99,284.53 559.30,282.80 C561.52,279.87 564.04,273.86 566.60,269.70 C569.05,265.71 571.67,261.88 574.30,258.30 C576.78,254.94 579.19,251.43 581.90,248.80 C584.30,246.48 587.05,244.39 589.50,243.10 C591.45,242.08 593.30,241.83 595.20,241.20 C595.83,241.50 596.44,241.54 597.10,242.10 C598.27,243.09 599.25,245.80 600.90,247.50 C602.88,249.54 605.63,251.37 608.50,253.20 C611.85,255.33 615.83,257.08 619.90,259.30 C624.63,261.88 630.29,265.03 635.20,267.80 C639.80,270.39 644.17,272.58 648.50,275.40 C652.94,278.30 657.17,281.80 661.50,285.00" fill="none" stroke="#ff1aff" stroke-width="2" stroke-linejoin="round" stroke-linecap="butt"/>
<rect x="574" y="4.5" width="104" height="77.5" fill="#fff"/>
<rect x="404" y="393" width="34" height="28" fill="#fff"/>
<rect x="49.50" y="3.60" width="284.90" height="211.10" fill="none" stroke="#3a3a3a" stroke-width="1.3"/>
<rect x="49.50" y="214.70" width="284.90" height="210.80" fill="none" stroke="#3a3a3a" stroke-width="1.3"/>
<rect x="396.60" y="3.70" width="284.90" height="210.80" fill="none" stroke="#3a3a3a" stroke-width="1.3"/>
<rect x="396.60" y="214.50" width="284.90" height="211.00" fill="none" stroke="#3a3a3a" stroke-width="1.3"/>
<line x1="69.47" y1="3.60" x2="69.47" y2="8.00" stroke="#3a3a3a" stroke-width="1.0" />
<line x1="69.47" y1="210.30" x2="69.47" y2="219.10" stroke="#3a3a3a" stroke-width="1.0" />
<line x1="69.47" y1="425.50" x2="69.47" y2="429.90" stroke="#3a3a3a" stroke-width="1.0" />
<line x1="89.83" y1="3.60" x2="89.83" y2="6.00" stroke="#3a3a3a" stroke-width="1.0" />
<line x1="89.83" y1="212.30" x2="89.83" y2="217.10" stroke="#3a3a3a" stroke-width="1.0" />
<line x1="89.83" y1="425.50" x2="89.83" y2="427.90" stroke="#3a3a3a" stroke-width="1.0" />
<line x1="110.19" y1="3.60" x2="110.19" y2="8.00" stroke="#3a3a3a" stroke-width="1.0" />
<line x1="110.19" y1="210.30" x2="110.19" y2="219.10" stroke="#3a3a3a" stroke-width="1.0" />
<line x1="110.19" y1="425.50" x2="110.19" y2="429.90" stroke="#3a3a3a" stroke-width="1.0" />
<line x1="130.56" y1="3.60" x2="130.56" y2="6.00" stroke="#3a3a3a" stroke-width="1.0" />
<line x1="130.56" y1="212.30" x2="130.56" y2="217.10" stroke="#3a3a3a" stroke-width="1.0" />
<line x1="130.56" y1="425.50" x2="130.56" y2="427.90" stroke="#3a3a3a" stroke-width="1.0" />
<line x1="150.93" y1="3.60" x2="150.93" y2="8.00" stroke="#3a3a3a" stroke-width="1.0" />
<line x1="150.93" y1="210.30" x2="150.93" y2="219.10" stroke="#3a3a3a" stroke-width="1.0" />
<line x1="150.93" y1="425.50" x2="150.93" y2="429.90" stroke="#3a3a3a" stroke-width="1.0" />
<line x1="171.29" y1="3.60" x2="171.29" y2="6.00" stroke="#3a3a3a" stroke-width="1.0" />
<line x1="171.29" y1="212.30" x2="171.29" y2="217.10" stroke="#3a3a3a" stroke-width="1.0" />
<line x1="171.29" y1="425.50" x2="171.29" y2="427.90" stroke="#3a3a3a" stroke-width="1.0" />
<line x1="191.66" y1="3.60" x2="191.66" y2="8.00" stroke="#3a3a3a" stroke-width="1.0" />
<line x1="191.66" y1="210.30" x2="191.66" y2="219.10" stroke="#3a3a3a" stroke-width="1.0" />
<line x1="191.66" y1="425.50" x2="191.66" y2="429.90" stroke="#3a3a3a" stroke-width="1.0" />
<line x1="212.02" y1="3.60" x2="212.02" y2="6.00" stroke="#3a3a3a" stroke-width="1.0" />
<line x1="212.02" y1="212.30" x2="212.02" y2="217.10" stroke="#3a3a3a" stroke-width="1.0" />
<line x1="212.02" y1="425.50" x2="212.02" y2="427.90" stroke="#3a3a3a" stroke-width="1.0" />
<line x1="232.38" y1="3.60" x2="232.38" y2="8.00" stroke="#3a3a3a" stroke-width="1.0" />
<line x1="232.38" y1="210.30" x2="232.38" y2="219.10" stroke="#3a3a3a" stroke-width="1.0" />
<line x1="232.38" y1="425.50" x2="232.38" y2="429.90" stroke="#3a3a3a" stroke-width="1.0" />
<line x1="252.75" y1="3.60" x2="252.75" y2="6.00" stroke="#3a3a3a" stroke-width="1.0" />
<line x1="252.75" y1="212.30" x2="252.75" y2="217.10" stroke="#3a3a3a" stroke-width="1.0" />
<line x1="252.75" y1="425.50" x2="252.75" y2="427.90" stroke="#3a3a3a" stroke-width="1.0" />
<line x1="273.12" y1="3.60" x2="273.12" y2="8.00" stroke="#3a3a3a" stroke-width="1.0" />
<line x1="273.12" y1="210.30" x2="273.12" y2="219.10" stroke="#3a3a3a" stroke-width="1.0" />
<line x1="273.12" y1="425.50" x2="273.12" y2="429.90" stroke="#3a3a3a" stroke-width="1.0" />
<line x1="293.48" y1="3.60" x2="293.48" y2="6.00" stroke="#3a3a3a" stroke-width="1.0" />
<line x1="293.48" y1="212.30" x2="293.48" y2="217.10" stroke="#3a3a3a" stroke-width="1.0" />
<line x1="293.48" y1="425.50" x2="293.48" y2="427.90" stroke="#3a3a3a" stroke-width="1.0" />
<line x1="313.85" y1="3.60" x2="313.85" y2="8.00" stroke="#3a3a3a" stroke-width="1.0" />
<line x1="313.85" y1="210.30" x2="313.85" y2="219.10" stroke="#3a3a3a" stroke-width="1.0" />
<line x1="313.85" y1="425.50" x2="313.85" y2="429.90" stroke="#3a3a3a" stroke-width="1.0" />
<text x="69.47" y="442.20" font-family="Liberation Sans" font-size="12" text-anchor="middle" fill="#1e1e1e" stroke="#1e1e1e" stroke-width="0.2" >400</text>
<text x="110.19" y="442.20" font-family="Liberation Sans" font-size="12" text-anchor="middle" fill="#1e1e1e" stroke="#1e1e1e" stroke-width="0.2" >500</text>
<text x="150.93" y="442.20" font-family="Liberation Sans" font-size="12" text-anchor="middle" fill="#1e1e1e" stroke="#1e1e1e" stroke-width="0.2" >600</text>
<text x="191.66" y="442.20" font-family="Liberation Sans" font-size="12" text-anchor="middle" fill="#1e1e1e" stroke="#1e1e1e" stroke-width="0.2" >700</text>
<text x="232.38" y="442.20" font-family="Liberation Sans" font-size="12" text-anchor="middle" fill="#1e1e1e" stroke="#1e1e1e" stroke-width="0.2" >800</text>
<text x="273.12" y="442.20" font-family="Liberation Sans" font-size="12" text-anchor="middle" fill="#1e1e1e" stroke="#1e1e1e" stroke-width="0.2" >900</text>
<text x="313.85" y="442.20" font-family="Liberation Sans" font-size="12" text-anchor="middle" fill="#1e1e1e" stroke="#1e1e1e" stroke-width="0.2" >1000</text>
<line x1="416.88" y1="3.70" x2="416.88" y2="8.10" stroke="#3a3a3a" stroke-width="1.0" />
<line x1="416.88" y1="210.10" x2="416.88" y2="218.90" stroke="#3a3a3a" stroke-width="1.0" />
<line x1="416.88" y1="425.50" x2="416.88" y2="429.90" stroke="#3a3a3a" stroke-width="1.0" />
<line x1="437.26" y1="3.70" x2="437.26" y2="6.10" stroke="#3a3a3a" stroke-width="1.0" />
<line x1="437.26" y1="212.10" x2="437.26" y2="216.90" stroke="#3a3a3a" stroke-width="1.0" />
<line x1="437.26" y1="425.50" x2="437.26" y2="427.90" stroke="#3a3a3a" stroke-width="1.0" />
<line x1="457.64" y1="3.70" x2="457.64" y2="8.10" stroke="#3a3a3a" stroke-width="1.0" />
<line x1="457.64" y1="210.10" x2="457.64" y2="218.90" stroke="#3a3a3a" stroke-width="1.0" />
<line x1="457.64" y1="425.50" x2="457.64" y2="429.90" stroke="#3a3a3a" stroke-width="1.0" />
<line x1="478.02" y1="3.70" x2="478.02" y2="6.10" stroke="#3a3a3a" stroke-width="1.0" />
<line x1="478.02" y1="212.10" x2="478.02" y2="216.90" stroke="#3a3a3a" stroke-width="1.0" />
<line x1="478.02" y1="425.50" x2="478.02" y2="427.90" stroke="#3a3a3a" stroke-width="1.0" />
<line x1="498.40" y1="3.70" x2="498.40" y2="8.10" stroke="#3a3a3a" stroke-width="1.0" />
<line x1="498.40" y1="210.10" x2="498.40" y2="218.90" stroke="#3a3a3a" stroke-width="1.0" />
<line x1="498.40" y1="425.50" x2="498.40" y2="429.90" stroke="#3a3a3a" stroke-width="1.0" />
<line x1="518.78" y1="3.70" x2="518.78" y2="6.10" stroke="#3a3a3a" stroke-width="1.0" />
<line x1="518.78" y1="212.10" x2="518.78" y2="216.90" stroke="#3a3a3a" stroke-width="1.0" />
<line x1="518.78" y1="425.50" x2="518.78" y2="427.90" stroke="#3a3a3a" stroke-width="1.0" />
<line x1="539.16" y1="3.70" x2="539.16" y2="8.10" stroke="#3a3a3a" stroke-width="1.0" />
<line x1="539.16" y1="210.10" x2="539.16" y2="218.90" stroke="#3a3a3a" stroke-width="1.0" />
<line x1="539.16" y1="425.50" x2="539.16" y2="429.90" stroke="#3a3a3a" stroke-width="1.0" />
<line x1="559.54" y1="3.70" x2="559.54" y2="6.10" stroke="#3a3a3a" stroke-width="1.0" />
<line x1="559.54" y1="212.10" x2="559.54" y2="216.90" stroke="#3a3a3a" stroke-width="1.0" />
<line x1="559.54" y1="425.50" x2="559.54" y2="427.90" stroke="#3a3a3a" stroke-width="1.0" />
<line x1="579.92" y1="3.70" x2="579.92" y2="8.10" stroke="#3a3a3a" stroke-width="1.0" />
<line x1="579.92" y1="210.10" x2="579.92" y2="218.90" stroke="#3a3a3a" stroke-width="1.0" />
<line x1="579.92" y1="425.50" x2="579.92" y2="429.90" stroke="#3a3a3a" stroke-width="1.0" />
<line x1="600.30" y1="3.70" x2="600.30" y2="6.10" stroke="#3a3a3a" stroke-width="1.0" />
<line x1="600.30" y1="212.10" x2="600.30" y2="216.90" stroke="#3a3a3a" stroke-width="1.0" />
<line x1="600.30" y1="425.50" x2="600.30" y2="427.90" stroke="#3a3a3a" stroke-width="1.0" />
<line x1="620.68" y1="3.70" x2="620.68" y2="8.10" stroke="#3a3a3a" stroke-width="1.0" />
<line x1="620.68" y1="210.10" x2="620.68" y2="218.90" stroke="#3a3a3a" stroke-width="1.0" />
<line x1="620.68" y1="425.50" x2="620.68" y2="429.90" stroke="#3a3a3a" stroke-width="1.0" />
<line x1="641.06" y1="3.70" x2="641.06" y2="6.10" stroke="#3a3a3a" stroke-width="1.0" />
<line x1="641.06" y1="212.10" x2="641.06" y2="216.90" stroke="#3a3a3a" stroke-width="1.0" />
<line x1="641.06" y1="425.50" x2="641.06" y2="427.90" stroke="#3a3a3a" stroke-width="1.0" />
<line x1="661.44" y1="3.70" x2="661.44" y2="8.10" stroke="#3a3a3a" stroke-width="1.0" />
<line x1="661.44" y1="210.10" x2="661.44" y2="218.90" stroke="#3a3a3a" stroke-width="1.0" />
<line x1="661.44" y1="425.50" x2="661.44" y2="429.90" stroke="#3a3a3a" stroke-width="1.0" />
<text x="416.88" y="442.20" font-family="Liberation Sans" font-size="12" text-anchor="middle" fill="#1e1e1e" stroke="#1e1e1e" stroke-width="0.2" >400</text>
<text x="457.64" y="442.20" font-family="Liberation Sans" font-size="12" text-anchor="middle" fill="#1e1e1e" stroke="#1e1e1e" stroke-width="0.2" >500</text>
<text x="498.40" y="442.20" font-family="Liberation Sans" font-size="12" text-anchor="middle" fill="#1e1e1e" stroke="#1e1e1e" stroke-width="0.2" >600</text>
<text x="539.16" y="442.20" font-family="Liberation Sans" font-size="12" text-anchor="middle" fill="#1e1e1e" stroke="#1e1e1e" stroke-width="0.2" >700</text>
<text x="579.92" y="442.20" font-family="Liberation Sans" font-size="12" text-anchor="middle" fill="#1e1e1e" stroke="#1e1e1e" stroke-width="0.2" >800</text>
<text x="620.68" y="442.20" font-family="Liberation Sans" font-size="12" text-anchor="middle" fill="#1e1e1e" stroke="#1e1e1e" stroke-width="0.2" >900</text>
<text x="661.44" y="442.20" font-family="Liberation Sans" font-size="12" text-anchor="middle" fill="#1e1e1e" stroke="#1e1e1e" stroke-width="0.2" >1000</text>
<line x1="45.10" y1="205.35" x2="49.50" y2="205.35" stroke="#3a3a3a" stroke-width="1.0" />
<line x1="330.00" y1="205.35" x2="334.40" y2="205.35" stroke="#3a3a3a" stroke-width="1.0" />
<text x="42.60" y="208.95" font-family="Liberation Sans" font-size="12.3" text-anchor="end" fill="#1e1e1e" stroke="#1e1e1e" stroke-width="0.2" >0.0</text>
<line x1="47.10" y1="186.14" x2="49.50" y2="186.14" stroke="#3a3a3a" stroke-width="1.0" />
<line x1="332.00" y1="186.14" x2="334.40" y2="186.14" stroke="#3a3a3a" stroke-width="1.0" />
<line x1="45.10" y1="166.94" x2="49.50" y2="166.94" stroke="#3a3a3a" stroke-width="1.0" />
<line x1="330.00" y1="166.94" x2="334.40" y2="166.94" stroke="#3a3a3a" stroke-width="1.0" />
<text x="42.60" y="170.54" font-family="Liberation Sans" font-size="12.3" text-anchor="end" fill="#1e1e1e" stroke="#1e1e1e" stroke-width="0.2" >0.2</text>
<line x1="47.10" y1="147.74" x2="49.50" y2="147.74" stroke="#3a3a3a" stroke-width="1.0" />
<line x1="332.00" y1="147.74" x2="334.40" y2="147.74" stroke="#3a3a3a" stroke-width="1.0" />
<line x1="45.10" y1="128.53" x2="49.50" y2="128.53" stroke="#3a3a3a" stroke-width="1.0" />
<line x1="330.00" y1="128.53" x2="334.40" y2="128.53" stroke="#3a3a3a" stroke-width="1.0" />
<text x="42.60" y="132.13" font-family="Liberation Sans" font-size="12.3" text-anchor="end" fill="#1e1e1e" stroke="#1e1e1e" stroke-width="0.2" >0.4</text>
<line x1="47.10" y1="109.33" x2="49.50" y2="109.33" stroke="#3a3a3a" stroke-width="1.0" />
<line x1="332.00" y1="109.33" x2="334.40" y2="109.33" stroke="#3a3a3a" stroke-width="1.0" />
<line x1="45.10" y1="90.12" x2="49.50" y2="90.12" stroke="#3a3a3a" stroke-width="1.0" />
<line x1="330.00" y1="90.12" x2="334.40" y2="90.12" stroke="#3a3a3a" stroke-width="1.0" />
<text x="42.60" y="93.72" font-family="Liberation Sans" font-size="12.3" text-anchor="end" fill="#1e1e1e" stroke="#1e1e1e" stroke-width="0.2" >0.6</text>
<line x1="47.10" y1="70.92" x2="49.50" y2="70.92" stroke="#3a3a3a" stroke-width="1.0" />
<line x1="332.00" y1="70.92" x2="334.40" y2="70.92" stroke="#3a3a3a" stroke-width="1.0" />
<line x1="45.10" y1="51.71" x2="49.50" y2="51.71" stroke="#3a3a3a" stroke-width="1.0" />
<line x1="330.00" y1="51.71" x2="334.40" y2="51.71" stroke="#3a3a3a" stroke-width="1.0" />
<text x="42.60" y="55.31" font-family="Liberation Sans" font-size="12.3" text-anchor="end" fill="#1e1e1e" stroke="#1e1e1e" stroke-width="0.2" >0.8</text>
<line x1="47.10" y1="32.50" x2="49.50" y2="32.50" stroke="#3a3a3a" stroke-width="1.0" />
<line x1="332.00" y1="32.50" x2="334.40" y2="32.50" stroke="#3a3a3a" stroke-width="1.0" />
<line x1="45.10" y1="13.30" x2="49.50" y2="13.30" stroke="#3a3a3a" stroke-width="1.0" />
<line x1="330.00" y1="13.30" x2="334.40" y2="13.30" stroke="#3a3a3a" stroke-width="1.0" />
<text x="42.60" y="16.90" font-family="Liberation Sans" font-size="12.3" text-anchor="end" fill="#1e1e1e" stroke="#1e1e1e" stroke-width="0.2" >1.0</text>
<line x1="45.10" y1="415.80" x2="49.50" y2="415.80" stroke="#3a3a3a" stroke-width="1.0" />
<line x1="330.00" y1="415.80" x2="334.40" y2="415.80" stroke="#3a3a3a" stroke-width="1.0" />
<text x="42.60" y="419.40" font-family="Liberation Sans" font-size="12.3" text-anchor="end" fill="#1e1e1e" stroke="#1e1e1e" stroke-width="0.2" >0.0</text>
<line x1="47.10" y1="396.62" x2="49.50" y2="396.62" stroke="#3a3a3a" stroke-width="1.0" />
<line x1="332.00" y1="396.62" x2="334.40" y2="396.62" stroke="#3a3a3a" stroke-width="1.0" />
<line x1="45.10" y1="377.45" x2="49.50" y2="377.45" stroke="#3a3a3a" stroke-width="1.0" />
<line x1="330.00" y1="377.45" x2="334.40" y2="377.45" stroke="#3a3a3a" stroke-width="1.0" />
<text x="42.60" y="381.05" font-family="Liberation Sans" font-size="12.3" text-anchor="end" fill="#1e1e1e" stroke="#1e1e1e" stroke-width="0.2" >0.2</text>
<line x1="47.10" y1="358.28" x2="49.50" y2="358.28" stroke="#3a3a3a" stroke-width="1.0" />
<line x1="332.00" y1="358.28" x2="334.40" y2="358.28" stroke="#3a3a3a" stroke-width="1.0" />
<line x1="45.10" y1="339.10" x2="49.50" y2="339.10" stroke="#3a3a3a" stroke-width="1.0" />
<line x1="330.00" y1="339.10" x2="334.40" y2="339.10" stroke="#3a3a3a" stroke-width="1.0" />
<text x="42.60" y="342.70" font-family="Liberation Sans" font-size="12.3" text-anchor="end" fill="#1e1e1e" stroke="#1e1e1e" stroke-width="0.2" >0.4</text>
<line x1="47.10" y1="319.93" x2="49.50" y2="319.93" stroke="#3a3a3a" stroke-width="1.0" />
<line x1="332.00" y1="319.93" x2="334.40" y2="319.93" stroke="#3a3a3a" stroke-width="1.0" />
<line x1="45.10" y1="300.75" x2="49.50" y2="300.75" stroke="#3a3a3a" stroke-width="1.0" />
<line x1="330.00" y1="300.75" x2="334.40" y2="300.75" stroke="#3a3a3a" stroke-width="1.0" />
<text x="42.60" y="304.35" font-family="Liberation Sans" font-size="12.3" text-anchor="end" fill="#1e1e1e" stroke="#1e1e1e" stroke-width="0.2" >0.6</text>
<line x1="47.10" y1="281.58" x2="49.50" y2="281.58" stroke="#3a3a3a" stroke-width="1.0" />
<line x1="332.00" y1="281.58" x2="334.40" y2="281.58" stroke="#3a3a3a" stroke-width="1.0" />
<line x1="45.10" y1="262.40" x2="49.50" y2="262.40" stroke="#3a3a3a" stroke-width="1.0" />
<line x1="330.00" y1="262.40" x2="334.40" y2="262.40" stroke="#3a3a3a" stroke-width="1.0" />
<text x="42.60" y="266.00" font-family="Liberation Sans" font-size="12.3" text-anchor="end" fill="#1e1e1e" stroke="#1e1e1e" stroke-width="0.2" >0.8</text>
<line x1="47.10" y1="243.22" x2="49.50" y2="243.22" stroke="#3a3a3a" stroke-width="1.0" />
<line x1="332.00" y1="243.22" x2="334.40" y2="243.22" stroke="#3a3a3a" stroke-width="1.0" />
<line x1="45.10" y1="224.05" x2="49.50" y2="224.05" stroke="#3a3a3a" stroke-width="1.0" />
<line x1="330.00" y1="224.05" x2="334.40" y2="224.05" stroke="#3a3a3a" stroke-width="1.0" />
<text x="42.60" y="227.65" font-family="Liberation Sans" font-size="12.3" text-anchor="end" fill="#1e1e1e" stroke="#1e1e1e" stroke-width="0.2" >1.0</text>
<line x1="394.20" y1="206.86" x2="396.60" y2="206.86" stroke="#3a3a3a" stroke-width="1.0" />
<line x1="679.10" y1="206.86" x2="681.50" y2="206.86" stroke="#3a3a3a" stroke-width="1.0" />
<line x1="394.20" y1="199.82" x2="396.60" y2="199.82" stroke="#3a3a3a" stroke-width="1.0" />
<line x1="679.10" y1="199.82" x2="681.50" y2="199.82" stroke="#3a3a3a" stroke-width="1.0" />
<line x1="394.20" y1="194.82" x2="396.60" y2="194.82" stroke="#3a3a3a" stroke-width="1.0" />
<line x1="679.10" y1="194.82" x2="681.50" y2="194.82" stroke="#3a3a3a" stroke-width="1.0" />
<line x1="394.20" y1="190.94" x2="396.60" y2="190.94" stroke="#3a3a3a" stroke-width="1.0" />
<line x1="679.10" y1="190.94" x2="681.50" y2="190.94" stroke="#3a3a3a" stroke-width="1.0" />
<line x1="394.20" y1="187.77" x2="396.60" y2="187.77" stroke="#3a3a3a" stroke-width="1.0" />
<line x1="679.10" y1="187.77" x2="681.50" y2="187.77" stroke="#3a3a3a" stroke-width="1.0" />
<line x1="394.20" y1="185.10" x2="396.60" y2="185.10" stroke="#3a3a3a" stroke-width="1.0" />
<line x1="679.10" y1="185.10" x2="681.50" y2="185.10" stroke="#3a3a3a" stroke-width="1.0" />
<line x1="394.20" y1="182.78" x2="396.60" y2="182.78" stroke="#3a3a3a" stroke-width="1.0" />
<line x1="679.10" y1="182.78" x2="681.50" y2="182.78" stroke="#3a3a3a" stroke-width="1.0" />
<line x1="394.20" y1="180.73" x2="396.60" y2="180.73" stroke="#3a3a3a" stroke-width="1.0" />
<line x1="679.10" y1="180.73" x2="681.50" y2="180.73" stroke="#3a3a3a" stroke-width="1.0" />
<line x1="392.20" y1="178.90" x2="396.60" y2="178.90" stroke="#3a3a3a" stroke-width="1.0" />
<line x1="677.10" y1="178.90" x2="681.50" y2="178.90" stroke="#3a3a3a" stroke-width="1.0" />
<text x="389.60" y="182.90" font-family="Liberation Sans" font-size="12" text-anchor="end" fill="#1e1e1e" stroke="#1e1e1e" stroke-width="0.2" >0.1</text>
<line x1="394.20" y1="166.86" x2="396.60" y2="166.86" stroke="#3a3a3a" stroke-width="1.0" />
<line x1="679.10" y1="166.86" x2="681.50" y2="166.86" stroke="#3a3a3a" stroke-width="1.0" />
<line x1="394.20" y1="159.82" x2="396.60" y2="159.82" stroke="#3a3a3a" stroke-width="1.0" />
<line x1="679.10" y1="159.82" x2="681.50" y2="159.82" stroke="#3a3a3a" stroke-width="1.0" />
<line x1="394.20" y1="154.82" x2="396.60" y2="154.82" stroke="#3a3a3a" stroke-width="1.0" />
<line x1="679.10" y1="154.82" x2="681.50" y2="154.82" stroke="#3a3a3a" stroke-width="1.0" />
<line x1="394.20" y1="150.94" x2="396.60" y2="150.94" stroke="#3a3a3a" stroke-width="1.0" />
<line x1="679.10" y1="150.94" x2="681.50" y2="150.94" stroke="#3a3a3a" stroke-width="1.0" />
<line x1="394.20" y1="147.77" x2="396.60" y2="147.77" stroke="#3a3a3a" stroke-width="1.0" />
<line x1="679.10" y1="147.77" x2="681.50" y2="147.77" stroke="#3a3a3a" stroke-width="1.0" />
<line x1="394.20" y1="145.10" x2="396.60" y2="145.10" stroke="#3a3a3a" stroke-width="1.0" />
<line x1="679.10" y1="145.10" x2="681.50" y2="145.10" stroke="#3a3a3a" stroke-width="1.0" />
<line x1="394.20" y1="142.78" x2="396.60" y2="142.78" stroke="#3a3a3a" stroke-width="1.0" />
<line x1="679.10" y1="142.78" x2="681.50" y2="142.78" stroke="#3a3a3a" stroke-width="1.0" />
<line x1="394.20" y1="140.73" x2="396.60" y2="140.73" stroke="#3a3a3a" stroke-width="1.0" />
<line x1="679.10" y1="140.73" x2="681.50" y2="140.73" stroke="#3a3a3a" stroke-width="1.0" />
<line x1="392.20" y1="138.90" x2="396.60" y2="138.90" stroke="#3a3a3a" stroke-width="1.0" />
<line x1="677.10" y1="138.90" x2="681.50" y2="138.90" stroke="#3a3a3a" stroke-width="1.0" />
<text x="389.60" y="142.90" font-family="Liberation Sans" font-size="12" text-anchor="end" fill="#1e1e1e" stroke="#1e1e1e" stroke-width="0.2" >1</text>
<line x1="394.20" y1="126.86" x2="396.60" y2="126.86" stroke="#3a3a3a" stroke-width="1.0" />
<line x1="679.10" y1="126.86" x2="681.50" y2="126.86" stroke="#3a3a3a" stroke-width="1.0" />
<line x1="394.20" y1="119.82" x2="396.60" y2="119.82" stroke="#3a3a3a" stroke-width="1.0" />
<line x1="679.10" y1="119.82" x2="681.50" y2="119.82" stroke="#3a3a3a" stroke-width="1.0" />
<line x1="394.20" y1="114.82" x2="396.60" y2="114.82" stroke="#3a3a3a" stroke-width="1.0" />
<line x1="679.10" y1="114.82" x2="681.50" y2="114.82" stroke="#3a3a3a" stroke-width="1.0" />
<line x1="394.20" y1="110.94" x2="396.60" y2="110.94" stroke="#3a3a3a" stroke-width="1.0" />
<line x1="679.10" y1="110.94" x2="681.50" y2="110.94" stroke="#3a3a3a" stroke-width="1.0" />
<line x1="394.20" y1="107.77" x2="396.60" y2="107.77" stroke="#3a3a3a" stroke-width="1.0" />
<line x1="679.10" y1="107.77" x2="681.50" y2="107.77" stroke="#3a3a3a" stroke-width="1.0" />
<line x1="394.20" y1="105.10" x2="396.60" y2="105.10" stroke="#3a3a3a" stroke-width="1.0" />
<line x1="679.10" y1="105.10" x2="681.50" y2="105.10" stroke="#3a3a3a" stroke-width="1.0" />
<line x1="394.20" y1="102.78" x2="396.60" y2="102.78" stroke="#3a3a3a" stroke-width="1.0" />
<line x1="679.10" y1="102.78" x2="681.50" y2="102.78" stroke="#3a3a3a" stroke-width="1.0" />
<line x1="394.20" y1="100.73" x2="396.60" y2="100.73" stroke="#3a3a3a" stroke-width="1.0" />
<line x1="679.10" y1="100.73" x2="681.50" y2="100.73" stroke="#3a3a3a" stroke-width="1.0" />
<line x1="392.20" y1="98.90" x2="396.60" y2="98.90" stroke="#3a3a3a" stroke-width="1.0" />
<line x1="677.10" y1="98.90" x2="681.50" y2="98.90" stroke="#3a3a3a" stroke-width="1.0" />
<text x="389.60" y="102.90" font-family="Liberation Sans" font-size="12" text-anchor="end" fill="#1e1e1e" stroke="#1e1e1e" stroke-width="0.2" >10</text>
<line x1="394.20" y1="86.86" x2="396.60" y2="86.86" stroke="#3a3a3a" stroke-width="1.0" />
<line x1="679.10" y1="86.86" x2="681.50" y2="86.86" stroke="#3a3a3a" stroke-width="1.0" />
<line x1="394.20" y1="79.82" x2="396.60" y2="79.82" stroke="#3a3a3a" stroke-width="1.0" />
<line x1="679.10" y1="79.82" x2="681.50" y2="79.82" stroke="#3a3a3a" stroke-width="1.0" />
<line x1="394.20" y1="74.82" x2="396.60" y2="74.82" stroke="#3a3a3a" stroke-width="1.0" />
<line x1="679.10" y1="74.82" x2="681.50" y2="74.82" stroke="#3a3a3a" stroke-width="1.0" />
<line x1="394.20" y1="70.94" x2="396.60" y2="70.94" stroke="#3a3a3a" stroke-width="1.0" />
<line x1="679.10" y1="70.94" x2="681.50" y2="70.94" stroke="#3a3a3a" stroke-width="1.0" />
<line x1="394.20" y1="67.77" x2="396.60" y2="67.77" stroke="#3a3a3a" stroke-width="1.0" />
<line x1="679.10" y1="67.77" x2="681.50" y2="67.77" stroke="#3a3a3a" stroke-width="1.0" />
<line x1="394.20" y1="65.10" x2="396.60" y2="65.10" stroke="#3a3a3a" stroke-width="1.0" />
<line x1="679.10" y1="65.10" x2="681.50" y2="65.10" stroke="#3a3a3a" stroke-width="1.0" />
<line x1="394.20" y1="62.78" x2="396.60" y2="62.78" stroke="#3a3a3a" stroke-width="1.0" />
<line x1="679.10" y1="62.78" x2="681.50" y2="62.78" stroke="#3a3a3a" stroke-width="1.0" />
<line x1="394.20" y1="60.73" x2="396.60" y2="60.73" stroke="#3a3a3a" stroke-width="1.0" />
<line x1="679.10" y1="60.73" x2="681.50" y2="60.73" stroke="#3a3a3a" stroke-width="1.0" />
<line x1="392.20" y1="58.90" x2="396.60" y2="58.90" stroke="#3a3a3a" stroke-width="1.0" />
<line x1="677.10" y1="58.90" x2="681.50" y2="58.90" stroke="#3a3a3a" stroke-width="1.0" />
<text x="389.60" y="62.90" font-family="Liberation Sans" font-size="12" text-anchor="end" fill="#1e1e1e" stroke="#1e1e1e" stroke-width="0.2" >100</text>
<line x1="394.20" y1="46.86" x2="396.60" y2="46.86" stroke="#3a3a3a" stroke-width="1.0" />
<line x1="679.10" y1="46.86" x2="681.50" y2="46.86" stroke="#3a3a3a" stroke-width="1.0" />
<line x1="394.20" y1="39.82" x2="396.60" y2="39.82" stroke="#3a3a3a" stroke-width="1.0" />
<line x1="679.10" y1="39.82" x2="681.50" y2="39.82" stroke="#3a3a3a" stroke-width="1.0" />
<line x1="394.20" y1="34.82" x2="396.60" y2="34.82" stroke="#3a3a3a" stroke-width="1.0" />
<line x1="679.10" y1="34.82" x2="681.50" y2="34.82" stroke="#3a3a3a" stroke-width="1.0" />
<line x1="394.20" y1="30.94" x2="396.60" y2="30.94" stroke="#3a3a3a" stroke-width="1.0" />
<line x1="679.10" y1="30.94" x2="681.50" y2="30.94" stroke="#3a3a3a" stroke-width="1.0" />
<line x1="394.20" y1="27.77" x2="396.60" y2="27.77" stroke="#3a3a3a" stroke-width="1.0" />
<line x1="679.10" y1="27.77" x2="681.50" y2="27.77" stroke="#3a3a3a" stroke-width="1.0" />
<line x1="394.20" y1="25.10" x2="396.60" y2="25.10" stroke="#3a3a3a" stroke-width="1.0" />
<line x1="679.10" y1="25.10" x2="681.50" y2="25.10" stroke="#3a3a3a" stroke-width="1.0" />
<line x1="394.20" y1="22.78" x2="396.60" y2="22.78" stroke="#3a3a3a" stroke-width="1.0" />
<line x1="679.10" y1="22.78" x2="681.50" y2="22.78" stroke="#3a3a3a" stroke-width="1.0" />
<line x1="394.20" y1="20.73" x2="396.60" y2="20.73" stroke="#3a3a3a" stroke-width="1.0" />
<line x1="679.10" y1="20.73" x2="681.50" y2="20.73" stroke="#3a3a3a" stroke-width="1.0" />
<line x1="392.20" y1="18.90" x2="396.60" y2="18.90" stroke="#3a3a3a" stroke-width="1.0" />
<line x1="677.10" y1="18.90" x2="681.50" y2="18.90" stroke="#3a3a3a" stroke-width="1.0" />
<text x="389.60" y="22.90" font-family="Liberation Sans" font-size="12" text-anchor="end" fill="#1e1e1e" stroke="#1e1e1e" stroke-width="0.2" >1000</text>
<line x1="394.20" y1="6.86" x2="396.60" y2="6.86" stroke="#3a3a3a" stroke-width="1.0" />
<line x1="679.10" y1="6.86" x2="681.50" y2="6.86" stroke="#3a3a3a" stroke-width="1.0" />
<line x1="394.20" y1="418.16" x2="396.60" y2="418.16" stroke="#3a3a3a" stroke-width="1.0" />
<line x1="679.10" y1="418.16" x2="681.50" y2="418.16" stroke="#3a3a3a" stroke-width="1.0" />
<line x1="394.20" y1="411.12" x2="396.60" y2="411.12" stroke="#3a3a3a" stroke-width="1.0" />
<line x1="679.10" y1="411.12" x2="681.50" y2="411.12" stroke="#3a3a3a" stroke-width="1.0" />
<line x1="394.20" y1="406.12" x2="396.60" y2="406.12" stroke="#3a3a3a" stroke-width="1.0" />
<line x1="679.10" y1="406.12" x2="681.50" y2="406.12" stroke="#3a3a3a" stroke-width="1.0" />
<line x1="394.20" y1="402.24" x2="396.60" y2="402.24" stroke="#3a3a3a" stroke-width="1.0" />
<line x1="679.10" y1="402.24" x2="681.50" y2="402.24" stroke="#3a3a3a" stroke-width="1.0" />
<line x1="394.20" y1="399.07" x2="396.60" y2="399.07" stroke="#3a3a3a" stroke-width="1.0" />
<line x1="679.10" y1="399.07" x2="681.50" y2="399.07" stroke="#3a3a3a" stroke-width="1.0" />
<line x1="394.20" y1="396.40" x2="396.60" y2="396.40" stroke="#3a3a3a" stroke-width="1.0" />
<line x1="679.10" y1="396.40" x2="681.50" y2="396.40" stroke="#3a3a3a" stroke-width="1.0" />
<line x1="394.20" y1="394.08" x2="396.60" y2="394.08" stroke="#3a3a3a" stroke-width="1.0" />
<line x1="679.10" y1="394.08" x2="681.50" y2="394.08" stroke="#3a3a3a" stroke-width="1.0" />
<line x1="394.20" y1="392.03" x2="396.60" y2="392.03" stroke="#3a3a3a" stroke-width="1.0" />
<line x1="679.10" y1="392.03" x2="681.50" y2="392.03" stroke="#3a3a3a" stroke-width="1.0" />
<line x1="392.20" y1="390.20" x2="396.60" y2="390.20" stroke="#3a3a3a" stroke-width="1.0" />
<line x1="677.10" y1="390.20" x2="681.50" y2="390.20" stroke="#3a3a3a" stroke-width="1.0" />
<text x="389.60" y="394.20" font-family="Liberation Sans" font-size="12" text-anchor="end" fill="#1e1e1e" stroke="#1e1e1e" stroke-width="0.2" >0.1</text>
<line x1="394.20" y1="378.16" x2="396.60" y2="378.16" stroke="#3a3a3a" stroke-width="1.0" />
<line x1="679.10" y1="378.16" x2="681.50" y2="378.16" stroke="#3a3a3a" stroke-width="1.0" />
<line x1="394.20" y1="371.12" x2="396.60" y2="371.12" stroke="#3a3a3a" stroke-width="1.0" />
<line x1="679.10" y1="371.12" x2="681.50" y2="371.12" stroke="#3a3a3a" stroke-width="1.0" />
<line x1="394.20" y1="366.12" x2="396.60" y2="366.12" stroke="#3a3a3a" stroke-width="1.0" />
<line x1="679.10" y1="366.12" x2="681.50" y2="366.12" stroke="#3a3a3a" stroke-width="1.0" />
<line x1="394.20" y1="362.24" x2="396.60" y2="362.24" stroke="#3a3a3a" stroke-width="1.0" />
<line x1="679.10" y1="362.24" x2="681.50" y2="362.24" stroke="#3a3a3a" stroke-width="1.0" />
<line x1="394.20" y1="359.07" x2="396.60" y2="359.07" stroke="#3a3a3a" stroke-width="1.0" />
<line x1="679.10" y1="359.07" x2="681.50" y2="359.07" stroke="#3a3a3a" stroke-width="1.0" />
<line x1="394.20" y1="356.40" x2="396.60" y2="356.40" stroke="#3a3a3a" stroke-width="1.0" />
<line x1="679.10" y1="356.40" x2="681.50" y2="356.40" stroke="#3a3a3a" stroke-width="1.0" />
<line x1="394.20" y1="354.08" x2="396.60" y2="354.08" stroke="#3a3a3a" stroke-width="1.0" />
<line x1="679.10" y1="354.08" x2="681.50" y2="354.08" stroke="#3a3a3a" stroke-width="1.0" />
<line x1="394.20" y1="352.03" x2="396.60" y2="352.03" stroke="#3a3a3a" stroke-width="1.0" />
<line x1="679.10" y1="352.03" x2="681.50" y2="352.03" stroke="#3a3a3a" stroke-width="1.0" />
<line x1="392.20" y1="350.20" x2="396.60" y2="350.20" stroke="#3a3a3a" stroke-width="1.0" />
<line x1="677.10" y1="350.20" x2="681.50" y2="350.20" stroke="#3a3a3a" stroke-width="1.0" />
<text x="389.60" y="354.20" font-family="Liberation Sans" font-size="12" text-anchor="end" fill="#1e1e1e" stroke="#1e1e1e" stroke-width="0.2" >1</text>
<line x1="394.20" y1="338.16" x2="396.60" y2="338.16" stroke="#3a3a3a" stroke-width="1.0" />
<line x1="679.10" y1="338.16" x2="681.50" y2="338.16" stroke="#3a3a3a" stroke-width="1.0" />
<line x1="394.20" y1="331.12" x2="396.60" y2="331.12" stroke="#3a3a3a" stroke-width="1.0" />
<line x1="679.10" y1="331.12" x2="681.50" y2="331.12" stroke="#3a3a3a" stroke-width="1.0" />
<line x1="394.20" y1="326.12" x2="396.60" y2="326.12" stroke="#3a3a3a" stroke-width="1.0" />
<line x1="679.10" y1="326.12" x2="681.50" y2="326.12" stroke="#3a3a3a" stroke-width="1.0" />
<line x1="394.20" y1="322.24" x2="396.60" y2="322.24" stroke="#3a3a3a" stroke-width="1.0" />
<line x1="679.10" y1="322.24" x2="681.50" y2="322.24" stroke="#3a3a3a" stroke-width="1.0" />
<line x1="394.20" y1="319.07" x2="396.60" y2="319.07" stroke="#3a3a3a" stroke-width="1.0" />
<line x1="679.10" y1="319.07" x2="681.50" y2="319.07" stroke="#3a3a3a" stroke-width="1.0" />
<line x1="394.20" y1="316.40" x2="396.60" y2="316.40" stroke="#3a3a3a" stroke-width="1.0" />
<line x1="679.10" y1="316.40" x2="681.50" y2="316.40" stroke="#3a3a3a" stroke-width="1.0" />
<line x1="394.20" y1="314.08" x2="396.60" y2="314.08" stroke="#3a3a3a" stroke-width="1.0" />
<line x1="679.10" y1="314.08" x2="681.50" y2="314.08" stroke="#3a3a3a" stroke-width="1.0" />
<line x1="394.20" y1="312.03" x2="396.60" y2="312.03" stroke="#3a3a3a" stroke-width="1.0" />
<line x1="679.10" y1="312.03" x2="681.50" y2="312.03" stroke="#3a3a3a" stroke-width="1.0" />
<line x1="392.20" y1="310.20" x2="396.60" y2="310.20" stroke="#3a3a3a" stroke-width="1.0" />
<line x1="677.10" y1="310.20" x2="681.50" y2="310.20" stroke="#3a3a3a" stroke-width="1.0" />
<text x="389.60" y="314.20" font-family="Liberation Sans" font-size="12" text-anchor="end" fill="#1e1e1e" stroke="#1e1e1e" stroke-width="0.2" >10</text>
<line x1="394.20" y1="298.16" x2="396.60" y2="298.16" stroke="#3a3a3a" stroke-width="1.0" />
<line x1="679.10" y1="298.16" x2="681.50" y2="298.16" stroke="#3a3a3a" stroke-width="1.0" />
<line x1="394.20" y1="291.12" x2="396.60" y2="291.12" stroke="#3a3a3a" stroke-width="1.0" />
<line x1="679.10" y1="291.12" x2="681.50" y2="291.12" stroke="#3a3a3a" stroke-width="1.0" />
<line x1="394.20" y1="286.12" x2="396.60" y2="286.12" stroke="#3a3a3a" stroke-width="1.0" />
<line x1="679.10" y1="286.12" x2="681.50" y2="286.12" stroke="#3a3a3a" stroke-width="1.0" />
<line x1="394.20" y1="282.24" x2="396.60" y2="282.24" stroke="#3a3a3a" stroke-width="1.0" />
<line x1="679.10" y1="282.24" x2="681.50" y2="282.24" stroke="#3a3a3a" stroke-width="1.0" />
<line x1="394.20" y1="279.07" x2="396.60" y2="279.07" stroke="#3a3a3a" stroke-width="1.0" />
<line x1="679.10" y1="279.07" x2="681.50" y2="279.07" stroke="#3a3a3a" stroke-width="1.0" />
<line x1="394.20" y1="276.40" x2="396.60" y2="276.40" stroke="#3a3a3a" stroke-width="1.0" />
<line x1="679.10" y1="276.40" x2="681.50" y2="276.40" stroke="#3a3a3a" stroke-width="1.0" />
<line x1="394.20" y1="274.08" x2="396.60" y2="274.08" stroke="#3a3a3a" stroke-width="1.0" />
<line x1="679.10" y1="274.08" x2="681.50" y2="274.08" stroke="#3a3a3a" stroke-width="1.0" />
<line x1="394.20" y1="272.03" x2="396.60" y2="272.03" stroke="#3a3a3a" stroke-width="1.0" />
<line x1="679.10" y1="272.03" x2="681.50" y2="272.03" stroke="#3a3a3a" stroke-width="1.0" />
<line x1="392.20" y1="270.20" x2="396.60" y2="270.20" stroke="#3a3a3a" stroke-width="1.0" />
<line x1="677.10" y1="270.20" x2="681.50" y2="270.20" stroke="#3a3a3a" stroke-width="1.0" />
<text x="389.60" y="274.20" font-family="Liberation Sans" font-size="12" text-anchor="end" fill="#1e1e1e" stroke="#1e1e1e" stroke-width="0.2" >100</text>
<line x1="394.20" y1="258.16" x2="396.60" y2="258.16" stroke="#3a3a3a" stroke-width="1.0" />
<line x1="679.10" y1="258.16" x2="681.50" y2="258.16" stroke="#3a3a3a" stroke-width="1.0" />
<line x1="394.20" y1="251.12" x2="396.60" y2="251.12" stroke="#3a3a3a" stroke-width="1.0" />
<line x1="679.10" y1="251.12" x2="681.50" y2="251.12" stroke="#3a3a3a" stroke-width="1.0" />
<line x1="394.20" y1="246.12" x2="396.60" y2="246.12" stroke="#3a3a3a" stroke-width="1.0" />
<line x1="679.10" y1="246.12" x2="681.50" y2="246.12" stroke="#3a3a3a" stroke-width="1.0" />
<line x1="394.20" y1="242.24" x2="396.60" y2="242.24" stroke="#3a3a3a" stroke-width="1.0" />
<line x1="679.10" y1="242.24" x2="681.50" y2="242.24" stroke="#3a3a3a" stroke-width="1.0" />
<line x1="394.20" y1="239.07" x2="396.60" y2="239.07" stroke="#3a3a3a" stroke-width="1.0" />
<line x1="679.10" y1="239.07" x2="681.50" y2="239.07" stroke="#3a3a3a" stroke-width="1.0" />
<line x1="394.20" y1="236.40" x2="396.60" y2="236.40" stroke="#3a3a3a" stroke-width="1.0" />
<line x1="679.10" y1="236.40" x2="681.50" y2="236.40" stroke="#3a3a3a" stroke-width="1.0" />
<line x1="394.20" y1="234.08" x2="396.60" y2="234.08" stroke="#3a3a3a" stroke-width="1.0" />
<line x1="679.10" y1="234.08" x2="681.50" y2="234.08" stroke="#3a3a3a" stroke-width="1.0" />
<line x1="394.20" y1="232.03" x2="396.60" y2="232.03" stroke="#3a3a3a" stroke-width="1.0" />
<line x1="679.10" y1="232.03" x2="681.50" y2="232.03" stroke="#3a3a3a" stroke-width="1.0" />
<line x1="392.20" y1="230.20" x2="396.60" y2="230.20" stroke="#3a3a3a" stroke-width="1.0" />
<line x1="677.10" y1="230.20" x2="681.50" y2="230.20" stroke="#3a3a3a" stroke-width="1.0" />
<text x="389.60" y="234.20" font-family="Liberation Sans" font-size="12" text-anchor="end" fill="#1e1e1e" stroke="#1e1e1e" stroke-width="0.2" >1000</text>
<line x1="394.20" y1="218.16" x2="396.60" y2="218.16" stroke="#3a3a3a" stroke-width="1.0" />
<line x1="679.10" y1="218.16" x2="681.50" y2="218.16" stroke="#3a3a3a" stroke-width="1.0" />
<text x="0.00" y="0.00" font-family="Liberation Sans" font-size="20.7" text-anchor="middle" fill="#1e1e1e" stroke="#1e1e1e" stroke-width="0.2" transform="translate(17.9,121.1) rotate(-90)">Transmittance</text>
<text x="0.00" y="0.00" font-family="Liberation Sans" font-size="20.7" text-anchor="middle" fill="#1e1e1e" stroke="#1e1e1e" stroke-width="0.2" transform="translate(17.9,323.6) rotate(-90)">Transmittance</text>
<text x="0.00" y="0.00" font-family="Liberation Sans" font-size="20.3" text-anchor="middle" fill="#1e1e1e" stroke="#1e1e1e" stroke-width="0.2" transform="translate(369.0,110.7) rotate(-90)">Extinction ratio</text>
<text x="0.00" y="0.00" font-family="Liberation Sans" font-size="20.3" text-anchor="middle" fill="#1e1e1e" stroke="#1e1e1e" stroke-width="0.2" transform="translate(369.0,323.4) rotate(-90)">Extinction ratio</text>
<text x="191.00" y="465.80" font-family="Liberation Sans" font-size="20.5" text-anchor="middle" fill="#1e1e1e" stroke="#1e1e1e" stroke-width="0.2" >Period [nm]</text>
<text x="539.10" y="465.80" font-family="Liberation Sans" font-size="20.5" text-anchor="middle" fill="#1e1e1e" stroke="#1e1e1e" stroke-width="0.2" >Period [nm]</text>
<text x="310.60" y="30.50" font-family="Liberation Sans" font-size="20" text-anchor="middle" fill="#1e1e1e" stroke="#1e1e1e" stroke-width="0.2" >(a)</text>
<text x="310.40" y="241.90" font-family="Liberation Sans" font-size="20" text-anchor="middle" fill="#1e1e1e" stroke="#1e1e1e" stroke-width="0.2" >(c)</text>
<text x="420.90" y="30.90" font-family="Liberation Sans" font-size="20" text-anchor="middle" fill="#1e1e1e" stroke="#1e1e1e" stroke-width="0.2" >(b)</text>
<text x="420.70" y="414.00" font-family="Liberation Sans" font-size="20" text-anchor="middle" fill="#1e1e1e" stroke="#1e1e1e" stroke-width="0.2" >(d)</text>
<text transform="translate(81.15,66.70) scale(0.85,1.0)" font-family="Liberation Serif" font-style="italic" font-size="16.6" fill="#1e1e1e" stroke="#1e1e1e" stroke-width="0.22">&#923;</text>
<text x="91.60" y="60.60" font-family="Liberation Serif" font-style="italic" font-size="12.3" letter-spacing="1.1" fill="#1e1e1e" stroke="#1e1e1e" stroke-width="0.22">RA</text>
<text x="91.70" y="71.30" font-family="Liberation Serif" font-style="italic" font-size="12.8" fill="#1e1e1e" stroke="#1e1e1e" stroke-width="0.22">s</text>
<text x="97.90" y="71.30" font-family="Liberation Serif" font-size="12.9" fill="#1e1e1e" stroke="#1e1e1e" stroke-width="0.22">1</text>
<text transform="translate(168.05,66.70) scale(0.85,1.0)" font-family="Liberation Serif" font-style="italic" font-size="16.6" fill="#1e1e1e" stroke="#1e1e1e" stroke-width="0.22">&#923;</text>
<text x="178.50" y="60.60" font-family="Liberation Serif" font-style="italic" font-size="12.3" letter-spacing="1.1" fill="#1e1e1e" stroke="#1e1e1e" stroke-width="0.22">RA</text>
<text x="178.60" y="71.30" font-family="Liberation Serif" font-style="italic" font-size="13.4" fill="#1e1e1e" stroke="#1e1e1e" stroke-width="0.22">a</text>
<text x="185.30" y="71.30" font-family="Liberation Serif" font-size="12.9" fill="#1e1e1e" stroke="#1e1e1e" stroke-width="0.22">1</text>
<text transform="translate(252.25,66.70) scale(0.85,1.0)" font-family="Liberation Serif" font-style="italic" font-size="16.6" fill="#1e1e1e" stroke="#1e1e1e" stroke-width="0.22">&#923;</text>
<text x="262.70" y="60.60" font-family="Liberation Serif" font-style="italic" font-size="12.3" letter-spacing="1.1" fill="#1e1e1e" stroke="#1e1e1e" stroke-width="0.22">RA</text>
<text x="262.80" y="71.30" font-family="Liberation Serif" font-style="italic" font-size="12.8" fill="#1e1e1e" stroke="#1e1e1e" stroke-width="0.22">s</text>
<text x="269.40" y="71.30" font-family="Liberation Serif" font-size="12.9" fill="#1e1e1e" stroke="#1e1e1e" stroke-width="0.22">2</text>
<text transform="translate(429.85,201.00) scale(0.85,1.0)" font-family="Liberation Serif" font-style="italic" font-size="16.6" fill="#1e1e1e" stroke="#1e1e1e" stroke-width="0.22">&#923;</text>
<text x="440.30" y="194.90" font-family="Liberation Serif" font-style="italic" font-size="12.3" letter-spacing="1.1" fill="#1e1e1e" stroke="#1e1e1e" stroke-width="0.22">RA</text>
<text x="440.40" y="205.60" font-family="Liberation Serif" font-style="italic" font-size="12.8" fill="#1e1e1e" stroke="#1e1e1e" stroke-width="0.22">s</text>
<text x="446.60" y="205.60" font-family="Liberation Serif" font-size="12.9" fill="#1e1e1e" stroke="#1e1e1e" stroke-width="0.22">1</text>
<text transform="translate(517.05,201.00) scale(0.85,1.0)" font-family="Liberation Serif" font-style="italic" font-size="16.6" fill="#1e1e1e" stroke="#1e1e1e" stroke-width="0.22">&#923;</text>
<text x="527.50" y="194.90" font-family="Liberation Serif" font-style="italic" font-size="12.3" letter-spacing="1.1" fill="#1e1e1e" stroke="#1e1e1e" stroke-width="0.22">RA</text>
<text x="527.60" y="205.60" font-family="Liberation Serif" font-style="italic" font-size="13.4" fill="#1e1e1e" stroke="#1e1e1e" stroke-width="0.22">a</text>
<text x="534.30" y="205.60" font-family="Liberation Serif" font-size="12.9" fill="#1e1e1e" stroke="#1e1e1e" stroke-width="0.22">1</text>
<text transform="translate(601.15,201.00) scale(0.85,1.0)" font-family="Liberation Serif" font-style="italic" font-size="16.6" fill="#1e1e1e" stroke="#1e1e1e" stroke-width="0.22">&#923;</text>
<text x="611.60" y="194.90" font-family="Liberation Serif" font-style="italic" font-size="12.3" letter-spacing="1.1" fill="#1e1e1e" stroke="#1e1e1e" stroke-width="0.22">RA</text>
<text x="611.70" y="205.60" font-family="Liberation Serif" font-style="italic" font-size="12.8" fill="#1e1e1e" stroke="#1e1e1e" stroke-width="0.22">s</text>
<text x="618.30" y="205.60" font-family="Liberation Serif" font-size="12.9" fill="#1e1e1e" stroke="#1e1e1e" stroke-width="0.22">2</text>
<line x1="579.40" y1="20.85" x2="617.90" y2="20.85" stroke="#000000" stroke-width="3.2" />
<text x="627.2" y="23.75" font-family="Liberation Serif" font-style="italic" font-size="11.4" fill="#1e1e1e" stroke="#1e1e1e" stroke-width="0.35">f</text>
<text x="633.70" y="24.55" font-family="Liberation Sans" font-size="13.4" text-anchor="start" fill="#1e1e1e" stroke="#1e1e1e" stroke-width="0.2" >=</text>
<text x="645.70" y="25.45" font-family="Liberation Sans" font-size="13.6" text-anchor="start" fill="#1e1e1e" stroke="#1e1e1e" stroke-width="0.2" >0.10</text>
<line x1="579.40" y1="33.80" x2="617.90" y2="33.80" stroke="#ff0000" stroke-width="3.2" />
<text x="627.2" y="36.70" font-family="Liberation Serif" font-style="italic" font-size="11.4" fill="#1e1e1e" stroke="#1e1e1e" stroke-width="0.35">f</text>
<text x="633.70" y="37.50" font-family="Liberation Sans" font-size="13.4" text-anchor="start" fill="#1e1e1e" stroke="#1e1e1e" stroke-width="0.2" >=</text>
<text x="645.70" y="38.40" font-family="Liberation Sans" font-size="13.6" text-anchor="start" fill="#1e1e1e" stroke="#1e1e1e" stroke-width="0.2" >0.25</text>
<line x1="579.40" y1="46.75" x2="617.90" y2="46.75" stroke="#1a1aff" stroke-width="3.2" />
<text x="627.2" y="49.65" font-family="Liberation Serif" font-style="italic" font-size="11.4" fill="#1e1e1e" stroke="#1e1e1e" stroke-width="0.35">f</text>
<text x="633.70" y="50.45" font-family="Liberation Sans" font-size="13.4" text-anchor="start" fill="#1e1e1e" stroke="#1e1e1e" stroke-width="0.2" >=</text>
<text x="645.70" y="51.35" font-family="Liberation Sans" font-size="13.6" text-anchor="start" fill="#1e1e1e" stroke="#1e1e1e" stroke-width="0.2" >0.50</text>
<line x1="579.40" y1="59.70" x2="617.90" y2="59.70" stroke="#4a7a32" stroke-width="3.2" />
<text x="627.2" y="62.60" font-family="Liberation Serif" font-style="italic" font-size="11.4" fill="#1e1e1e" stroke="#1e1e1e" stroke-width="0.35">f</text>
<text x="633.70" y="63.40" font-family="Liberation Sans" font-size="13.4" text-anchor="start" fill="#1e1e1e" stroke="#1e1e1e" stroke-width="0.2" >=</text>
<text x="645.70" y="64.30" font-family="Liberation Sans" font-size="13.6" text-anchor="start" fill="#1e1e1e" stroke="#1e1e1e" stroke-width="0.2" >0.75</text>
<line x1="579.40" y1="72.65" x2="617.90" y2="72.65" stroke="#ff00ff" stroke-width="3.2" />
<text x="627.2" y="75.55" font-family="Liberation Serif" font-style="italic" font-size="11.4" fill="#1e1e1e" stroke="#1e1e1e" stroke-width="0.35">f</text>
<text x="633.70" y="76.35" font-family="Liberation Sans" font-size="13.4" text-anchor="start" fill="#1e1e1e" stroke="#1e1e1e" stroke-width="0.2" >=</text>
<text x="645.70" y="77.25" font-family="Liberation Sans" font-size="13.6" text-anchor="start" fill="#1e1e1e" stroke="#1e1e1e" stroke-width="0.2" >0.90</text>
</svg>
</body></html>
